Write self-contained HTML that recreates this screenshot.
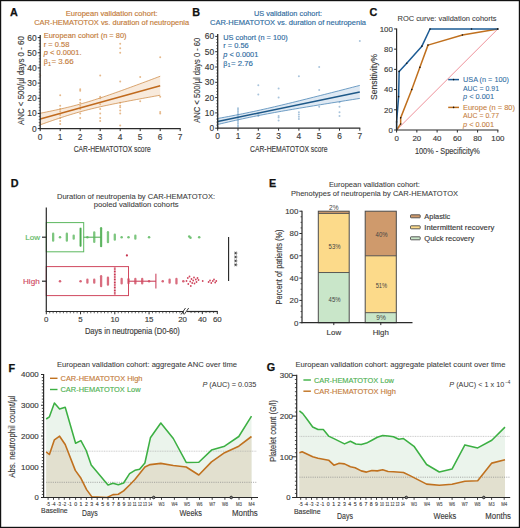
<!DOCTYPE html>
<html><head><meta charset="utf-8"><style>
html,body{margin:0;padding:0;background:#fff;}
body{width:520px;height:528px;overflow:hidden;position:relative;}
svg{position:absolute;left:0;top:0;display:block;}
</style></head><body>
<svg width="520" height="528" viewBox="0 0 520 528" font-family='"Liberation Sans", sans-serif'>
<rect x="0" y="0" width="520" height="528" fill="#fff"/>
<text x="10.00" y="15.90" font-size="10.8" fill="#111" text-anchor="start" font-weight="bold" stroke="#111" stroke-width="0.25">A</text>
<text x="192.30" y="15.90" font-size="10.8" fill="#111" text-anchor="start" font-weight="bold" stroke="#111" stroke-width="0.25">B</text>
<text x="369.40" y="16.20" font-size="10.8" fill="#111" text-anchor="start" font-weight="bold" stroke="#111" stroke-width="0.25">C</text>
<text x="10.80" y="187.00" font-size="10.8" fill="#111" text-anchor="start" font-weight="bold" stroke="#111" stroke-width="0.25">D</text>
<text x="268.90" y="187.10" font-size="10.8" fill="#111" text-anchor="start" font-weight="bold" stroke="#111" stroke-width="0.25">E</text>
<text x="8.60" y="371.80" font-size="10.8" fill="#111" text-anchor="start" font-weight="bold" stroke="#111" stroke-width="0.25">F</text>
<text x="266.80" y="371.30" font-size="10.8" fill="#111" text-anchor="start" font-weight="bold" stroke="#111" stroke-width="0.25">G</text>
<text x="111.70" y="16.30" font-size="6.8" fill="#c47c3a" text-anchor="middle" textLength="92" lengthAdjust="spacingAndGlyphs" stroke="#c47c3a" stroke-width="0.14">European validation cohort:</text>
<text x="111.70" y="24.80" font-size="6.8" fill="#c47c3a" text-anchor="middle" textLength="155" lengthAdjust="spacingAndGlyphs" stroke="#c47c3a" stroke-width="0.14">CAR-HEMATOTOX vs. duration of neutropenia</text>
<polygon points="40.20,113.25 43.20,112.65 46.20,112.05 49.20,111.44 52.20,110.81 55.20,110.17 58.20,109.52 61.20,108.85 64.20,108.16 67.20,107.45 70.20,106.72 73.20,105.96 76.20,105.18 79.20,104.37 82.20,103.53 85.20,102.67 88.20,101.77 91.20,100.86 94.20,99.92 97.20,98.95 100.20,97.97 103.20,96.97 106.20,95.95 109.20,94.92 112.20,93.87 115.20,92.82 118.20,91.75 121.20,90.68 124.20,89.60 127.20,88.51 130.20,87.41 133.20,86.31 136.20,85.21 139.20,84.10 142.20,82.98 145.20,81.87 148.20,80.75 151.20,79.62 154.20,78.50 157.20,77.37 160.20,76.24 160.20,95.22 157.20,95.75 154.20,96.29 151.20,96.83 148.20,97.38 145.20,97.92 142.20,98.47 139.20,99.02 136.20,99.58 133.20,100.14 130.20,100.70 127.20,101.27 124.20,101.85 121.20,102.43 118.20,103.03 115.20,103.63 112.20,104.23 109.20,104.86 106.20,105.49 103.20,106.14 100.20,106.80 97.20,107.48 94.20,108.19 91.20,108.91 88.20,109.66 85.20,110.44 82.20,111.24 79.20,112.06 76.20,112.92 73.20,113.80 70.20,114.71 67.20,115.64 64.20,116.60 61.20,117.58 58.20,118.57 55.20,119.58 52.20,120.61 49.20,121.65 46.20,122.70 43.20,123.77 40.20,124.84" fill="#f8eadc"/>
<circle cx="60.20" cy="95.23" r="1.0" fill="#e6b98c"/>
<circle cx="60.20" cy="105.84" r="1.0" fill="#e6b98c"/>
<circle cx="60.20" cy="108.88" r="1.0" fill="#e6b98c"/>
<circle cx="60.20" cy="111.15" r="1.0" fill="#e6b98c"/>
<circle cx="60.20" cy="114.95" r="1.0" fill="#e6b98c"/>
<circle cx="60.20" cy="117.98" r="1.0" fill="#e6b98c"/>
<circle cx="60.20" cy="121.02" r="1.0" fill="#e6b98c"/>
<circle cx="60.20" cy="124.05" r="1.0" fill="#e6b98c"/>
<circle cx="80.20" cy="89.16" r="1.0" fill="#e6b98c"/>
<circle cx="80.20" cy="90.67" r="1.0" fill="#e6b98c"/>
<circle cx="80.20" cy="99.78" r="1.0" fill="#e6b98c"/>
<circle cx="80.20" cy="102.81" r="1.0" fill="#e6b98c"/>
<circle cx="80.20" cy="105.84" r="1.0" fill="#e6b98c"/>
<circle cx="80.20" cy="108.88" r="1.0" fill="#e6b98c"/>
<circle cx="80.20" cy="113.43" r="1.0" fill="#e6b98c"/>
<circle cx="80.20" cy="117.98" r="1.0" fill="#e6b98c"/>
<circle cx="100.20" cy="75.50" r="1.0" fill="#e6b98c"/>
<circle cx="100.20" cy="96.74" r="1.0" fill="#e6b98c"/>
<circle cx="100.20" cy="98.26" r="1.0" fill="#e6b98c"/>
<circle cx="100.20" cy="104.33" r="1.0" fill="#e6b98c"/>
<circle cx="100.20" cy="108.88" r="1.0" fill="#e6b98c"/>
<circle cx="100.20" cy="113.43" r="1.0" fill="#e6b98c"/>
<circle cx="100.20" cy="117.98" r="1.0" fill="#e6b98c"/>
<circle cx="100.20" cy="121.02" r="1.0" fill="#e6b98c"/>
<circle cx="120.20" cy="43.65" r="1.0" fill="#e6b98c"/>
<circle cx="120.20" cy="48.20" r="1.0" fill="#e6b98c"/>
<circle cx="120.20" cy="52.75" r="1.0" fill="#e6b98c"/>
<circle cx="120.20" cy="81.57" r="1.0" fill="#e6b98c"/>
<circle cx="120.20" cy="102.81" r="1.0" fill="#e6b98c"/>
<circle cx="120.20" cy="105.84" r="1.0" fill="#e6b98c"/>
<circle cx="120.20" cy="107.36" r="1.0" fill="#e6b98c"/>
<circle cx="120.20" cy="110.40" r="1.0" fill="#e6b98c"/>
<circle cx="120.20" cy="113.43" r="1.0" fill="#e6b98c"/>
<circle cx="120.20" cy="125.57" r="1.0" fill="#e6b98c"/>
<circle cx="140.20" cy="77.02" r="1.0" fill="#e6b98c"/>
<circle cx="140.20" cy="101.29" r="1.0" fill="#e6b98c"/>
<circle cx="160.20" cy="57.30" r="1.0" fill="#e6b98c"/>
<circle cx="160.20" cy="96.74" r="1.0" fill="#e6b98c"/>
<circle cx="160.20" cy="111.91" r="1.0" fill="#e6b98c"/>
<circle cx="160.20" cy="113.43" r="1.0" fill="#e6b98c"/>
<circle cx="40.20" cy="75.50" r="1.0" fill="#e6b98c"/>
<circle cx="40.20" cy="124.05" r="1.0" fill="#e6b98c"/>
<polyline points="40.20,113.25 43.20,112.65 46.20,112.05 49.20,111.44 52.20,110.81 55.20,110.17 58.20,109.52 61.20,108.85 64.20,108.16 67.20,107.45 70.20,106.72 73.20,105.96 76.20,105.18 79.20,104.37 82.20,103.53 85.20,102.67 88.20,101.77 91.20,100.86 94.20,99.92 97.20,98.95 100.20,97.97 103.20,96.97 106.20,95.95 109.20,94.92 112.20,93.87 115.20,92.82 118.20,91.75 121.20,90.68 124.20,89.60 127.20,88.51 130.20,87.41 133.20,86.31 136.20,85.21 139.20,84.10 142.20,82.98 145.20,81.87 148.20,80.75 151.20,79.62 154.20,78.50 157.20,77.37 160.20,76.24" fill="none" stroke="#d1904f" stroke-width="0.8" stroke-linejoin="round"/>
<polyline points="40.20,124.84 43.20,123.77 46.20,122.70 49.20,121.65 52.20,120.61 55.20,119.58 58.20,118.57 61.20,117.58 64.20,116.60 67.20,115.64 70.20,114.71 73.20,113.80 76.20,112.92 79.20,112.06 82.20,111.24 85.20,110.44 88.20,109.66 91.20,108.91 94.20,108.19 97.20,107.48 100.20,106.80 103.20,106.14 106.20,105.49 109.20,104.86 112.20,104.23 115.20,103.63 118.20,103.03 121.20,102.43 124.20,101.85 127.20,101.27 130.20,100.70 133.20,100.14 136.20,99.58 139.20,99.02 142.20,98.47 145.20,97.92 148.20,97.38 151.20,96.83 154.20,96.29 157.20,95.75 160.20,95.22" fill="none" stroke="#d1904f" stroke-width="0.8" stroke-linejoin="round"/>
<line x1="40.20" y1="119.04" x2="160.20" y2="85.73" stroke="#c06a1e" stroke-width="1.5"/>
<line x1="40.20" y1="129.20" x2="40.20" y2="35.08" stroke="#2a2a2a" stroke-width="1.3"/>
<line x1="39.60" y1="128.60" x2="180.70" y2="128.60" stroke="#2a2a2a" stroke-width="1.3"/>
<line x1="37.70" y1="128.60" x2="40.20" y2="128.60" stroke="#2a2a2a" stroke-width="1"/>
<text x="36.60" y="131.60" font-size="8.4" fill="#3a3a3a" text-anchor="end" stroke="#3a3a3a" stroke-width="0.14">0</text>
<line x1="37.70" y1="113.43" x2="40.20" y2="113.43" stroke="#2a2a2a" stroke-width="1"/>
<text x="36.60" y="116.43" font-size="8.4" fill="#3a3a3a" text-anchor="end" textLength="9.4" lengthAdjust="spacingAndGlyphs" stroke="#3a3a3a" stroke-width="0.14">10</text>
<line x1="37.70" y1="98.26" x2="40.20" y2="98.26" stroke="#2a2a2a" stroke-width="1"/>
<text x="36.60" y="101.26" font-size="8.4" fill="#3a3a3a" text-anchor="end" textLength="9.4" lengthAdjust="spacingAndGlyphs" stroke="#3a3a3a" stroke-width="0.14">20</text>
<line x1="37.70" y1="83.09" x2="40.20" y2="83.09" stroke="#2a2a2a" stroke-width="1"/>
<text x="36.60" y="86.09" font-size="8.4" fill="#3a3a3a" text-anchor="end" textLength="9.4" lengthAdjust="spacingAndGlyphs" stroke="#3a3a3a" stroke-width="0.14">30</text>
<line x1="37.70" y1="67.92" x2="40.20" y2="67.92" stroke="#2a2a2a" stroke-width="1"/>
<text x="36.60" y="70.92" font-size="8.4" fill="#3a3a3a" text-anchor="end" textLength="9.4" lengthAdjust="spacingAndGlyphs" stroke="#3a3a3a" stroke-width="0.14">40</text>
<line x1="37.70" y1="52.75" x2="40.20" y2="52.75" stroke="#2a2a2a" stroke-width="1"/>
<text x="36.60" y="55.75" font-size="8.4" fill="#3a3a3a" text-anchor="end" textLength="9.4" lengthAdjust="spacingAndGlyphs" stroke="#3a3a3a" stroke-width="0.14">50</text>
<line x1="37.70" y1="37.58" x2="40.20" y2="37.58" stroke="#2a2a2a" stroke-width="1"/>
<text x="36.60" y="40.58" font-size="8.4" fill="#3a3a3a" text-anchor="end" textLength="9.4" lengthAdjust="spacingAndGlyphs" stroke="#3a3a3a" stroke-width="0.14">60</text>
<line x1="38.70" y1="125.57" x2="40.20" y2="125.57" stroke="#2a2a2a" stroke-width="0.6"/>
<line x1="38.70" y1="122.53" x2="40.20" y2="122.53" stroke="#2a2a2a" stroke-width="0.6"/>
<line x1="38.70" y1="119.50" x2="40.20" y2="119.50" stroke="#2a2a2a" stroke-width="0.6"/>
<line x1="38.70" y1="116.46" x2="40.20" y2="116.46" stroke="#2a2a2a" stroke-width="0.6"/>
<line x1="38.70" y1="110.40" x2="40.20" y2="110.40" stroke="#2a2a2a" stroke-width="0.6"/>
<line x1="38.70" y1="107.36" x2="40.20" y2="107.36" stroke="#2a2a2a" stroke-width="0.6"/>
<line x1="38.70" y1="104.33" x2="40.20" y2="104.33" stroke="#2a2a2a" stroke-width="0.6"/>
<line x1="38.70" y1="101.29" x2="40.20" y2="101.29" stroke="#2a2a2a" stroke-width="0.6"/>
<line x1="38.70" y1="95.23" x2="40.20" y2="95.23" stroke="#2a2a2a" stroke-width="0.6"/>
<line x1="38.70" y1="92.19" x2="40.20" y2="92.19" stroke="#2a2a2a" stroke-width="0.6"/>
<line x1="38.70" y1="89.16" x2="40.20" y2="89.16" stroke="#2a2a2a" stroke-width="0.6"/>
<line x1="38.70" y1="86.12" x2="40.20" y2="86.12" stroke="#2a2a2a" stroke-width="0.6"/>
<line x1="38.70" y1="80.06" x2="40.20" y2="80.06" stroke="#2a2a2a" stroke-width="0.6"/>
<line x1="38.70" y1="77.02" x2="40.20" y2="77.02" stroke="#2a2a2a" stroke-width="0.6"/>
<line x1="38.70" y1="73.99" x2="40.20" y2="73.99" stroke="#2a2a2a" stroke-width="0.6"/>
<line x1="38.70" y1="70.95" x2="40.20" y2="70.95" stroke="#2a2a2a" stroke-width="0.6"/>
<line x1="38.70" y1="64.89" x2="40.20" y2="64.89" stroke="#2a2a2a" stroke-width="0.6"/>
<line x1="38.70" y1="61.85" x2="40.20" y2="61.85" stroke="#2a2a2a" stroke-width="0.6"/>
<line x1="38.70" y1="58.82" x2="40.20" y2="58.82" stroke="#2a2a2a" stroke-width="0.6"/>
<line x1="38.70" y1="55.78" x2="40.20" y2="55.78" stroke="#2a2a2a" stroke-width="0.6"/>
<line x1="38.70" y1="49.72" x2="40.20" y2="49.72" stroke="#2a2a2a" stroke-width="0.6"/>
<line x1="38.70" y1="46.68" x2="40.20" y2="46.68" stroke="#2a2a2a" stroke-width="0.6"/>
<line x1="38.70" y1="43.65" x2="40.20" y2="43.65" stroke="#2a2a2a" stroke-width="0.6"/>
<line x1="38.70" y1="40.61" x2="40.20" y2="40.61" stroke="#2a2a2a" stroke-width="0.6"/>
<line x1="40.20" y1="128.60" x2="40.20" y2="131.10" stroke="#2a2a2a" stroke-width="1"/>
<text x="40.20" y="139.80" font-size="8.4" fill="#3a3a3a" text-anchor="middle" stroke="#3a3a3a" stroke-width="0.14">0</text>
<line x1="60.20" y1="128.60" x2="60.20" y2="131.10" stroke="#2a2a2a" stroke-width="1"/>
<text x="60.20" y="139.80" font-size="8.4" fill="#3a3a3a" text-anchor="middle" stroke="#3a3a3a" stroke-width="0.14">1</text>
<line x1="80.20" y1="128.60" x2="80.20" y2="131.10" stroke="#2a2a2a" stroke-width="1"/>
<text x="80.20" y="139.80" font-size="8.4" fill="#3a3a3a" text-anchor="middle" stroke="#3a3a3a" stroke-width="0.14">2</text>
<line x1="100.20" y1="128.60" x2="100.20" y2="131.10" stroke="#2a2a2a" stroke-width="1"/>
<text x="100.20" y="139.80" font-size="8.4" fill="#3a3a3a" text-anchor="middle" stroke="#3a3a3a" stroke-width="0.14">3</text>
<line x1="120.20" y1="128.60" x2="120.20" y2="131.10" stroke="#2a2a2a" stroke-width="1"/>
<text x="120.20" y="139.80" font-size="8.4" fill="#3a3a3a" text-anchor="middle" stroke="#3a3a3a" stroke-width="0.14">4</text>
<line x1="140.20" y1="128.60" x2="140.20" y2="131.10" stroke="#2a2a2a" stroke-width="1"/>
<text x="140.20" y="139.80" font-size="8.4" fill="#3a3a3a" text-anchor="middle" stroke="#3a3a3a" stroke-width="0.14">5</text>
<line x1="160.20" y1="128.60" x2="160.20" y2="131.10" stroke="#2a2a2a" stroke-width="1"/>
<text x="160.20" y="139.80" font-size="8.4" fill="#3a3a3a" text-anchor="middle" stroke="#3a3a3a" stroke-width="0.14">6</text>
<line x1="180.20" y1="128.60" x2="180.20" y2="131.10" stroke="#2a2a2a" stroke-width="1"/>
<text x="180.20" y="139.80" font-size="8.4" fill="#3a3a3a" text-anchor="middle" stroke="#3a3a3a" stroke-width="0.14">7</text>
<text x="43.80" y="37.80" font-size="7.2" fill="#c47c3a" text-anchor="start" textLength="82.7" lengthAdjust="spacingAndGlyphs" stroke="#c47c3a" stroke-width="0.14">European cohort (n = 80)</text>
<text x="43.80" y="46.80" font-size="7.2" fill="#c47c3a" text-anchor="start" textLength="25.6" lengthAdjust="spacingAndGlyphs" stroke="#c47c3a" stroke-width="0.14">r = 0.58</text>
<text x="43.80" y="55.10" font-size="7.2" fill="#c47c3a" text-anchor="start" textLength="37.7" lengthAdjust="spacingAndGlyphs" stroke="#c47c3a" stroke-width="0.14"><tspan font-style="italic">p</tspan> &lt; 0.0001.</text>
<text x="43.80" y="64.10" font-size="7.2" fill="#c47c3a" text-anchor="start" stroke="#c47c3a" stroke-width="0.14">β</text>
<text x="48.20" y="65.60" font-size="4.8" fill="#c47c3a" text-anchor="start" stroke="#c47c3a" stroke-width="0.14">1</text>
<text x="51.40" y="64.10" font-size="7.2" fill="#c47c3a" text-anchor="start" textLength="22.299999999999997" lengthAdjust="spacingAndGlyphs" stroke="#c47c3a" stroke-width="0.14">= 3.66</text>
<text x="288.00" y="16.30" font-size="6.8" fill="#2f6c9f" text-anchor="middle" textLength="68" lengthAdjust="spacingAndGlyphs" stroke="#2f6c9f" stroke-width="0.14">US validation cohort:</text>
<text x="288.00" y="24.80" font-size="6.8" fill="#2f6c9f" text-anchor="middle" textLength="156" lengthAdjust="spacingAndGlyphs" stroke="#2f6c9f" stroke-width="0.14">CAR-HEMATOTOX vs. duration of neutropenia</text>
<polygon points="217.70,118.47 221.25,117.83 224.80,117.18 228.36,116.52 231.91,115.85 235.46,115.17 239.01,114.48 242.57,113.77 246.12,113.04 249.67,112.31 253.22,111.55 256.78,110.79 260.33,110.01 263.88,109.21 267.44,108.41 270.99,107.59 274.54,106.76 278.09,105.92 281.64,105.08 285.20,104.22 288.75,103.36 292.30,102.50 295.86,101.62 299.41,100.74 302.96,99.86 306.51,98.98 310.06,98.09 313.62,97.19 317.17,96.30 320.72,95.40 324.27,94.50 327.83,93.60 331.38,92.69 334.93,91.79 338.49,90.88 342.04,89.97 345.59,89.06 349.14,88.15 352.69,87.23 356.25,86.32 359.80,85.40 359.80,98.41 356.25,98.98 352.69,99.54 349.14,100.10 345.59,100.67 342.04,101.24 338.49,101.81 334.93,102.38 331.38,102.95 327.83,103.52 324.27,104.10 320.72,104.68 317.17,105.25 313.62,105.84 310.06,106.42 306.51,107.01 302.96,107.60 299.41,108.20 295.86,108.80 292.30,109.40 288.75,110.01 285.20,110.63 281.64,111.25 278.09,111.89 274.54,112.53 270.99,113.18 267.44,113.84 263.88,114.51 260.33,115.19 256.78,115.89 253.22,116.60 249.67,117.33 246.12,118.07 242.57,118.82 239.01,119.59 235.46,120.37 231.91,121.17 228.36,121.98 224.80,122.80 221.25,123.63 217.70,124.46" fill="#dfe9f3"/>
<circle cx="217.70" cy="114.43" r="1.0" fill="#a9c4dc"/>
<circle cx="217.70" cy="119.02" r="1.0" fill="#a9c4dc"/>
<circle cx="217.70" cy="123.61" r="1.0" fill="#a9c4dc"/>
<circle cx="217.70" cy="126.67" r="1.0" fill="#a9c4dc"/>
<circle cx="238.00" cy="108.31" r="1.0" fill="#a9c4dc"/>
<circle cx="238.00" cy="109.84" r="1.0" fill="#a9c4dc"/>
<circle cx="238.00" cy="111.37" r="1.0" fill="#a9c4dc"/>
<circle cx="238.00" cy="112.90" r="1.0" fill="#a9c4dc"/>
<circle cx="238.00" cy="114.43" r="1.0" fill="#a9c4dc"/>
<circle cx="238.00" cy="115.96" r="1.0" fill="#a9c4dc"/>
<circle cx="238.00" cy="117.49" r="1.0" fill="#a9c4dc"/>
<circle cx="238.00" cy="119.02" r="1.0" fill="#a9c4dc"/>
<circle cx="238.00" cy="120.55" r="1.0" fill="#a9c4dc"/>
<circle cx="238.00" cy="122.08" r="1.0" fill="#a9c4dc"/>
<circle cx="238.00" cy="123.61" r="1.0" fill="#a9c4dc"/>
<circle cx="238.00" cy="125.14" r="1.0" fill="#a9c4dc"/>
<circle cx="238.00" cy="126.67" r="1.0" fill="#a9c4dc"/>
<circle cx="258.30" cy="85.36" r="1.0" fill="#a9c4dc"/>
<circle cx="258.30" cy="94.54" r="1.0" fill="#a9c4dc"/>
<circle cx="258.30" cy="112.90" r="1.0" fill="#a9c4dc"/>
<circle cx="258.30" cy="114.43" r="1.0" fill="#a9c4dc"/>
<circle cx="258.30" cy="115.96" r="1.0" fill="#a9c4dc"/>
<circle cx="278.60" cy="88.42" r="1.0" fill="#a9c4dc"/>
<circle cx="278.60" cy="97.60" r="1.0" fill="#a9c4dc"/>
<circle cx="278.60" cy="115.96" r="1.0" fill="#a9c4dc"/>
<circle cx="278.60" cy="117.49" r="1.0" fill="#a9c4dc"/>
<circle cx="278.60" cy="120.55" r="1.0" fill="#a9c4dc"/>
<circle cx="298.90" cy="76.18" r="1.0" fill="#a9c4dc"/>
<circle cx="298.90" cy="112.13" r="1.0" fill="#a9c4dc"/>
<circle cx="298.90" cy="114.43" r="1.0" fill="#a9c4dc"/>
<circle cx="298.90" cy="116.72" r="1.0" fill="#a9c4dc"/>
<circle cx="298.90" cy="119.02" r="1.0" fill="#a9c4dc"/>
<circle cx="319.20" cy="67.00" r="1.0" fill="#a9c4dc"/>
<circle cx="319.20" cy="89.95" r="1.0" fill="#a9c4dc"/>
<circle cx="319.20" cy="106.78" r="1.0" fill="#a9c4dc"/>
<circle cx="339.50" cy="102.19" r="1.0" fill="#a9c4dc"/>
<circle cx="339.50" cy="106.78" r="1.0" fill="#a9c4dc"/>
<circle cx="339.50" cy="112.13" r="1.0" fill="#a9c4dc"/>
<circle cx="339.50" cy="115.96" r="1.0" fill="#a9c4dc"/>
<circle cx="359.80" cy="40.99" r="1.0" fill="#a9c4dc"/>
<polyline points="217.70,118.47 221.25,117.83 224.80,117.18 228.36,116.52 231.91,115.85 235.46,115.17 239.01,114.48 242.57,113.77 246.12,113.04 249.67,112.31 253.22,111.55 256.78,110.79 260.33,110.01 263.88,109.21 267.44,108.41 270.99,107.59 274.54,106.76 278.09,105.92 281.64,105.08 285.20,104.22 288.75,103.36 292.30,102.50 295.86,101.62 299.41,100.74 302.96,99.86 306.51,98.98 310.06,98.09 313.62,97.19 317.17,96.30 320.72,95.40 324.27,94.50 327.83,93.60 331.38,92.69 334.93,91.79 338.49,90.88 342.04,89.97 345.59,89.06 349.14,88.15 352.69,87.23 356.25,86.32 359.80,85.40" fill="none" stroke="#4d86b6" stroke-width="0.8" stroke-linejoin="round"/>
<polyline points="217.70,124.46 221.25,123.63 224.80,122.80 228.36,121.98 231.91,121.17 235.46,120.37 239.01,119.59 242.57,118.82 246.12,118.07 249.67,117.33 253.22,116.60 256.78,115.89 260.33,115.19 263.88,114.51 267.44,113.84 270.99,113.18 274.54,112.53 278.09,111.89 281.64,111.25 285.20,110.63 288.75,110.01 292.30,109.40 295.86,108.80 299.41,108.20 302.96,107.60 306.51,107.01 310.06,106.42 313.62,105.84 317.17,105.25 320.72,104.68 324.27,104.10 327.83,103.52 331.38,102.95 334.93,102.38 338.49,101.81 342.04,101.24 345.59,100.67 349.14,100.10 352.69,99.54 356.25,98.98 359.80,98.41" fill="none" stroke="#4d86b6" stroke-width="0.8" stroke-linejoin="round"/>
<line x1="217.70" y1="121.47" x2="359.80" y2="91.91" stroke="#1d5888" stroke-width="1.5"/>
<line x1="217.70" y1="128.80" x2="217.70" y2="33.90" stroke="#2a2a2a" stroke-width="1.3"/>
<line x1="217.10" y1="128.20" x2="360.30" y2="128.20" stroke="#2a2a2a" stroke-width="1.3"/>
<line x1="215.20" y1="128.20" x2="217.70" y2="128.20" stroke="#2a2a2a" stroke-width="1"/>
<text x="214.10" y="131.20" font-size="8.4" fill="#3a3a3a" text-anchor="end" stroke="#3a3a3a" stroke-width="0.14">0</text>
<line x1="215.20" y1="112.90" x2="217.70" y2="112.90" stroke="#2a2a2a" stroke-width="1"/>
<text x="214.10" y="115.90" font-size="8.4" fill="#3a3a3a" text-anchor="end" textLength="9.4" lengthAdjust="spacingAndGlyphs" stroke="#3a3a3a" stroke-width="0.14">10</text>
<line x1="215.20" y1="97.60" x2="217.70" y2="97.60" stroke="#2a2a2a" stroke-width="1"/>
<text x="214.10" y="100.60" font-size="8.4" fill="#3a3a3a" text-anchor="end" textLength="9.4" lengthAdjust="spacingAndGlyphs" stroke="#3a3a3a" stroke-width="0.14">20</text>
<line x1="215.20" y1="82.30" x2="217.70" y2="82.30" stroke="#2a2a2a" stroke-width="1"/>
<text x="214.10" y="85.30" font-size="8.4" fill="#3a3a3a" text-anchor="end" textLength="9.4" lengthAdjust="spacingAndGlyphs" stroke="#3a3a3a" stroke-width="0.14">30</text>
<line x1="215.20" y1="67.00" x2="217.70" y2="67.00" stroke="#2a2a2a" stroke-width="1"/>
<text x="214.10" y="70.00" font-size="8.4" fill="#3a3a3a" text-anchor="end" textLength="9.4" lengthAdjust="spacingAndGlyphs" stroke="#3a3a3a" stroke-width="0.14">40</text>
<line x1="215.20" y1="51.70" x2="217.70" y2="51.70" stroke="#2a2a2a" stroke-width="1"/>
<text x="214.10" y="54.70" font-size="8.4" fill="#3a3a3a" text-anchor="end" textLength="9.4" lengthAdjust="spacingAndGlyphs" stroke="#3a3a3a" stroke-width="0.14">50</text>
<line x1="215.20" y1="36.40" x2="217.70" y2="36.40" stroke="#2a2a2a" stroke-width="1"/>
<text x="214.10" y="39.40" font-size="8.4" fill="#3a3a3a" text-anchor="end" textLength="9.4" lengthAdjust="spacingAndGlyphs" stroke="#3a3a3a" stroke-width="0.14">60</text>
<line x1="216.20" y1="125.14" x2="217.70" y2="125.14" stroke="#2a2a2a" stroke-width="0.6"/>
<line x1="216.20" y1="122.08" x2="217.70" y2="122.08" stroke="#2a2a2a" stroke-width="0.6"/>
<line x1="216.20" y1="119.02" x2="217.70" y2="119.02" stroke="#2a2a2a" stroke-width="0.6"/>
<line x1="216.20" y1="115.96" x2="217.70" y2="115.96" stroke="#2a2a2a" stroke-width="0.6"/>
<line x1="216.20" y1="109.84" x2="217.70" y2="109.84" stroke="#2a2a2a" stroke-width="0.6"/>
<line x1="216.20" y1="106.78" x2="217.70" y2="106.78" stroke="#2a2a2a" stroke-width="0.6"/>
<line x1="216.20" y1="103.72" x2="217.70" y2="103.72" stroke="#2a2a2a" stroke-width="0.6"/>
<line x1="216.20" y1="100.66" x2="217.70" y2="100.66" stroke="#2a2a2a" stroke-width="0.6"/>
<line x1="216.20" y1="94.54" x2="217.70" y2="94.54" stroke="#2a2a2a" stroke-width="0.6"/>
<line x1="216.20" y1="91.48" x2="217.70" y2="91.48" stroke="#2a2a2a" stroke-width="0.6"/>
<line x1="216.20" y1="88.42" x2="217.70" y2="88.42" stroke="#2a2a2a" stroke-width="0.6"/>
<line x1="216.20" y1="85.36" x2="217.70" y2="85.36" stroke="#2a2a2a" stroke-width="0.6"/>
<line x1="216.20" y1="79.24" x2="217.70" y2="79.24" stroke="#2a2a2a" stroke-width="0.6"/>
<line x1="216.20" y1="76.18" x2="217.70" y2="76.18" stroke="#2a2a2a" stroke-width="0.6"/>
<line x1="216.20" y1="73.12" x2="217.70" y2="73.12" stroke="#2a2a2a" stroke-width="0.6"/>
<line x1="216.20" y1="70.06" x2="217.70" y2="70.06" stroke="#2a2a2a" stroke-width="0.6"/>
<line x1="216.20" y1="63.94" x2="217.70" y2="63.94" stroke="#2a2a2a" stroke-width="0.6"/>
<line x1="216.20" y1="60.88" x2="217.70" y2="60.88" stroke="#2a2a2a" stroke-width="0.6"/>
<line x1="216.20" y1="57.82" x2="217.70" y2="57.82" stroke="#2a2a2a" stroke-width="0.6"/>
<line x1="216.20" y1="54.76" x2="217.70" y2="54.76" stroke="#2a2a2a" stroke-width="0.6"/>
<line x1="216.20" y1="48.64" x2="217.70" y2="48.64" stroke="#2a2a2a" stroke-width="0.6"/>
<line x1="216.20" y1="45.58" x2="217.70" y2="45.58" stroke="#2a2a2a" stroke-width="0.6"/>
<line x1="216.20" y1="42.52" x2="217.70" y2="42.52" stroke="#2a2a2a" stroke-width="0.6"/>
<line x1="216.20" y1="39.46" x2="217.70" y2="39.46" stroke="#2a2a2a" stroke-width="0.6"/>
<line x1="217.70" y1="128.20" x2="217.70" y2="130.70" stroke="#2a2a2a" stroke-width="1"/>
<text x="217.70" y="139.40" font-size="8.4" fill="#3a3a3a" text-anchor="middle" stroke="#3a3a3a" stroke-width="0.14">0</text>
<line x1="238.00" y1="128.20" x2="238.00" y2="130.70" stroke="#2a2a2a" stroke-width="1"/>
<text x="238.00" y="139.40" font-size="8.4" fill="#3a3a3a" text-anchor="middle" stroke="#3a3a3a" stroke-width="0.14">1</text>
<line x1="258.30" y1="128.20" x2="258.30" y2="130.70" stroke="#2a2a2a" stroke-width="1"/>
<text x="258.30" y="139.40" font-size="8.4" fill="#3a3a3a" text-anchor="middle" stroke="#3a3a3a" stroke-width="0.14">2</text>
<line x1="278.60" y1="128.20" x2="278.60" y2="130.70" stroke="#2a2a2a" stroke-width="1"/>
<text x="278.60" y="139.40" font-size="8.4" fill="#3a3a3a" text-anchor="middle" stroke="#3a3a3a" stroke-width="0.14">3</text>
<line x1="298.90" y1="128.20" x2="298.90" y2="130.70" stroke="#2a2a2a" stroke-width="1"/>
<text x="298.90" y="139.40" font-size="8.4" fill="#3a3a3a" text-anchor="middle" stroke="#3a3a3a" stroke-width="0.14">4</text>
<line x1="319.20" y1="128.20" x2="319.20" y2="130.70" stroke="#2a2a2a" stroke-width="1"/>
<text x="319.20" y="139.40" font-size="8.4" fill="#3a3a3a" text-anchor="middle" stroke="#3a3a3a" stroke-width="0.14">5</text>
<line x1="339.50" y1="128.20" x2="339.50" y2="130.70" stroke="#2a2a2a" stroke-width="1"/>
<text x="339.50" y="139.40" font-size="8.4" fill="#3a3a3a" text-anchor="middle" stroke="#3a3a3a" stroke-width="0.14">6</text>
<line x1="359.80" y1="128.20" x2="359.80" y2="130.70" stroke="#2a2a2a" stroke-width="1"/>
<text x="359.80" y="139.40" font-size="8.4" fill="#3a3a3a" text-anchor="middle" stroke="#3a3a3a" stroke-width="0.14">7</text>
<text x="223.30" y="39.50" font-size="7.2" fill="#2f6c9f" text-anchor="start" textLength="64.4" lengthAdjust="spacingAndGlyphs" stroke="#2f6c9f" stroke-width="0.14">US cohort (n = 100)</text>
<text x="223.30" y="48.20" font-size="7.2" fill="#2f6c9f" text-anchor="start" textLength="25.4" lengthAdjust="spacingAndGlyphs" stroke="#2f6c9f" stroke-width="0.14">r = 0.56</text>
<text x="223.30" y="56.80" font-size="7.2" fill="#2f6c9f" text-anchor="start" textLength="35.0" lengthAdjust="spacingAndGlyphs" stroke="#2f6c9f" stroke-width="0.14"><tspan font-style="italic">p</tspan> &lt; 0.0001</text>
<text x="223.30" y="65.50" font-size="7.2" fill="#2f6c9f" text-anchor="start" stroke="#2f6c9f" stroke-width="0.14">β</text>
<text x="227.70" y="67.00" font-size="4.8" fill="#2f6c9f" text-anchor="start" stroke="#2f6c9f" stroke-width="0.14">1</text>
<text x="230.90" y="65.50" font-size="7.2" fill="#2f6c9f" text-anchor="start" textLength="22.1" lengthAdjust="spacingAndGlyphs" stroke="#2f6c9f" stroke-width="0.14">= 2.76</text>
<text x="24.30" y="80.60" font-size="8.4" fill="#3a3a3a" text-anchor="middle" textLength="89" lengthAdjust="spacingAndGlyphs" stroke="#3a3a3a" stroke-width="0.14" transform="rotate(-90 24.30 80.60)">ANC &lt; 500/µl days 0 - 60</text>
<text x="200.20" y="80.20" font-size="8.4" fill="#3a3a3a" text-anchor="middle" textLength="85" lengthAdjust="spacingAndGlyphs" stroke="#3a3a3a" stroke-width="0.14" transform="rotate(-90 200.20 80.20)">ANC &lt; 500/µl days 0 - 60</text>
<text x="112.15" y="152.10" font-size="9.0" fill="#3a3a3a" text-anchor="middle" textLength="77" lengthAdjust="spacingAndGlyphs" stroke="#3a3a3a" stroke-width="0.14">CAR-HEMATOTOX score</text>
<text x="288.75" y="151.60" font-size="9.0" fill="#3a3a3a" text-anchor="middle" textLength="77.5" lengthAdjust="spacingAndGlyphs" stroke="#3a3a3a" stroke-width="0.14">CAR-HEMATOTOX score</text>
<text x="447.00" y="20.80" font-size="6.9" fill="#3a3a3a" text-anchor="middle" textLength="99" lengthAdjust="spacingAndGlyphs" stroke="#3a3a3a" stroke-width="0.07">ROC curve: validation cohorts</text>
<line x1="396.60" y1="130.00" x2="497.85" y2="28.95" stroke="#ea7580" stroke-width="0.8"/>
<polyline points="396.60,130.00 400.65,123.94 400.65,117.87 411.79,89.58 419.89,67.35 427.99,45.12 462.41,35.01 497.85,28.95" fill="none" stroke="#c0701e" stroke-width="1.5" stroke-linejoin="round"/>
<polyline points="396.60,130.00 396.60,121.92 398.62,96.65 399.13,71.39 406.73,63.31 421.91,46.13 430.01,28.95 471.53,28.95 497.85,28.95" fill="none" stroke="#1d5c95" stroke-width="1.5" stroke-linejoin="round"/>
<circle cx="396.60" cy="121.92" r="0.8" fill="#111"/>
<circle cx="398.62" cy="96.65" r="0.8" fill="#111"/>
<circle cx="399.13" cy="71.39" r="0.8" fill="#111"/>
<circle cx="406.73" cy="63.31" r="0.8" fill="#111"/>
<circle cx="421.91" cy="46.13" r="0.8" fill="#111"/>
<circle cx="430.01" cy="28.95" r="0.8" fill="#111"/>
<circle cx="471.53" cy="28.95" r="0.8" fill="#111"/>
<circle cx="497.85" cy="28.95" r="0.8" fill="#111"/>
<circle cx="400.65" cy="123.94" r="0.8" fill="#111"/>
<circle cx="400.65" cy="117.87" r="0.8" fill="#111"/>
<circle cx="411.79" cy="89.58" r="0.8" fill="#111"/>
<circle cx="419.89" cy="67.35" r="0.8" fill="#111"/>
<circle cx="427.99" cy="45.12" r="0.8" fill="#111"/>
<circle cx="462.41" cy="35.01" r="0.8" fill="#111"/>
<circle cx="497.85" cy="28.95" r="0.8" fill="#111"/>
<line x1="396.60" y1="130.60" x2="396.60" y2="28.45" stroke="#2a2a2a" stroke-width="1.2"/>
<line x1="396.00" y1="130.00" x2="498.35" y2="130.00" stroke="#2a2a2a" stroke-width="1.2"/>
<line x1="394.10" y1="130.00" x2="396.60" y2="130.00" stroke="#2a2a2a" stroke-width="1"/>
<text x="392.80" y="132.80" font-size="7.9" fill="#3a3a3a" text-anchor="end" stroke="#3a3a3a" stroke-width="0.14">0</text>
<line x1="396.60" y1="130.00" x2="396.60" y2="132.50" stroke="#2a2a2a" stroke-width="1"/>
<text x="396.60" y="140.90" font-size="7.9" fill="#3a3a3a" text-anchor="middle" stroke="#3a3a3a" stroke-width="0.14">0</text>
<line x1="394.10" y1="109.79" x2="396.60" y2="109.79" stroke="#2a2a2a" stroke-width="1"/>
<text x="392.80" y="112.59" font-size="7.9" fill="#3a3a3a" text-anchor="end" stroke="#3a3a3a" stroke-width="0.14">20</text>
<line x1="416.85" y1="130.00" x2="416.85" y2="132.50" stroke="#2a2a2a" stroke-width="1"/>
<text x="416.85" y="140.90" font-size="7.9" fill="#3a3a3a" text-anchor="middle" stroke="#3a3a3a" stroke-width="0.14">20</text>
<line x1="394.10" y1="89.58" x2="396.60" y2="89.58" stroke="#2a2a2a" stroke-width="1"/>
<text x="392.80" y="92.38" font-size="7.9" fill="#3a3a3a" text-anchor="end" stroke="#3a3a3a" stroke-width="0.14">40</text>
<line x1="437.10" y1="130.00" x2="437.10" y2="132.50" stroke="#2a2a2a" stroke-width="1"/>
<text x="437.10" y="140.90" font-size="7.9" fill="#3a3a3a" text-anchor="middle" stroke="#3a3a3a" stroke-width="0.14">40</text>
<line x1="394.10" y1="69.37" x2="396.60" y2="69.37" stroke="#2a2a2a" stroke-width="1"/>
<text x="392.80" y="72.17" font-size="7.9" fill="#3a3a3a" text-anchor="end" stroke="#3a3a3a" stroke-width="0.14">60</text>
<line x1="457.35" y1="130.00" x2="457.35" y2="132.50" stroke="#2a2a2a" stroke-width="1"/>
<text x="457.35" y="140.90" font-size="7.9" fill="#3a3a3a" text-anchor="middle" stroke="#3a3a3a" stroke-width="0.14">60</text>
<line x1="394.10" y1="49.16" x2="396.60" y2="49.16" stroke="#2a2a2a" stroke-width="1"/>
<text x="392.80" y="51.96" font-size="7.9" fill="#3a3a3a" text-anchor="end" stroke="#3a3a3a" stroke-width="0.14">80</text>
<line x1="477.60" y1="130.00" x2="477.60" y2="132.50" stroke="#2a2a2a" stroke-width="1"/>
<text x="477.60" y="140.90" font-size="7.9" fill="#3a3a3a" text-anchor="middle" stroke="#3a3a3a" stroke-width="0.14">80</text>
<line x1="394.10" y1="28.95" x2="396.60" y2="28.95" stroke="#2a2a2a" stroke-width="1"/>
<text x="392.80" y="31.75" font-size="7.9" fill="#3a3a3a" text-anchor="end" stroke="#3a3a3a" stroke-width="0.14">100</text>
<line x1="497.85" y1="130.00" x2="497.85" y2="132.50" stroke="#2a2a2a" stroke-width="1"/>
<text x="497.85" y="140.90" font-size="7.9" fill="#3a3a3a" text-anchor="middle" stroke="#3a3a3a" stroke-width="0.14">100</text>
<text x="376.80" y="77.00" font-size="8.4" fill="#3a3a3a" text-anchor="middle" textLength="46" lengthAdjust="spacingAndGlyphs" stroke="#3a3a3a" stroke-width="0.14" transform="rotate(-90 376.80 77.00)">Sensitivity%</text>
<text x="447.40" y="154.40" font-size="8.4" fill="#3a3a3a" text-anchor="middle" textLength="65" lengthAdjust="spacingAndGlyphs" stroke="#3a3a3a" stroke-width="0.14">100% - Specificity%</text>
<line x1="448.20" y1="79.60" x2="459.00" y2="79.60" stroke="#1d5c95" stroke-width="1.5"/>
<circle cx="453.60" cy="79.60" r="0.8" fill="#111"/>
<text x="463.00" y="82.00" font-size="6.9" fill="#2f6c9f" text-anchor="start" textLength="46" lengthAdjust="spacingAndGlyphs" stroke="#2f6c9f" stroke-width="0.07">USA (n = 100)</text>
<text x="463.00" y="90.60" font-size="6.9" fill="#2f6c9f" text-anchor="start" textLength="36" lengthAdjust="spacingAndGlyphs" stroke="#2f6c9f" stroke-width="0.07">AUC = 0.91</text>
<text x="463.00" y="99.20" font-size="6.9" fill="#2f6c9f" text-anchor="start" textLength="31" lengthAdjust="spacingAndGlyphs" stroke="#2f6c9f" stroke-width="0.07"><tspan font-style="italic">p</tspan> &lt; 0.001</text>
<line x1="448.20" y1="107.40" x2="459.00" y2="107.40" stroke="#c0701e" stroke-width="1.5"/>
<circle cx="453.60" cy="107.40" r="0.8" fill="#111"/>
<text x="463.00" y="109.90" font-size="6.9" fill="#c47c3a" text-anchor="start" textLength="52" lengthAdjust="spacingAndGlyphs" stroke="#c47c3a" stroke-width="0.07">Europe (n = 80)</text>
<text x="463.00" y="118.40" font-size="6.9" fill="#c47c3a" text-anchor="start" textLength="36" lengthAdjust="spacingAndGlyphs" stroke="#c47c3a" stroke-width="0.07">AUC = 0.77</text>
<text x="463.00" y="127.20" font-size="6.9" fill="#c47c3a" text-anchor="start" textLength="31" lengthAdjust="spacingAndGlyphs" stroke="#c47c3a" stroke-width="0.07"><tspan font-style="italic">p</tspan> &lt; 0.001</text>
<text x="136.00" y="198.60" font-size="6.9" fill="#3a3a3a" text-anchor="middle" textLength="158" lengthAdjust="spacingAndGlyphs" stroke="#3a3a3a" stroke-width="0.07">Duration of neutropenia by CAR-HEMATOTOX:</text>
<text x="136.20" y="207.40" font-size="6.9" fill="#3a3a3a" text-anchor="middle" textLength="85" lengthAdjust="spacingAndGlyphs" stroke="#3a3a3a" stroke-width="0.07">pooled validation cohorts</text>
<rect x="46.30" y="222.60" width="37.40" height="29.20" fill="none" stroke="#5cb85f" stroke-width="1.0"/>
<line x1="83.70" y1="237.20" x2="101.10" y2="237.20" stroke="#4aa84e" stroke-width="1.0"/>
<line x1="53.15" y1="233.70" x2="53.15" y2="240.70" stroke="#5cb85f" stroke-width="2.3" stroke-linecap="round" stroke-opacity="0.8"/>
<circle cx="60.00" cy="237.20" r="1.25" fill="#5cb85f" fill-opacity="0.85"/>
<line x1="66.85" y1="233.70" x2="66.85" y2="240.70" stroke="#5cb85f" stroke-width="2.3" stroke-linecap="round" stroke-opacity="0.8"/>
<line x1="73.70" y1="235.70" x2="73.70" y2="238.70" stroke="#5cb85f" stroke-width="2.3" stroke-linecap="round" stroke-opacity="0.8"/>
<line x1="80.55" y1="228.70" x2="80.55" y2="245.70" stroke="#5cb85f" stroke-width="2.3" stroke-linecap="round" stroke-opacity="0.8"/>
<circle cx="87.40" cy="237.20" r="1.25" fill="#5cb85f" fill-opacity="0.85"/>
<line x1="94.25" y1="232.45" x2="94.25" y2="241.95" stroke="#5cb85f" stroke-width="2.3" stroke-linecap="round" stroke-opacity="0.8"/>
<line x1="101.10" y1="228.20" x2="101.10" y2="246.20" stroke="#5cb85f" stroke-width="2.3" stroke-linecap="round" stroke-opacity="0.8"/>
<line x1="107.95" y1="232.20" x2="107.95" y2="242.20" stroke="#5cb85f" stroke-width="2.3" stroke-linecap="round" stroke-opacity="0.8"/>
<line x1="114.80" y1="234.70" x2="114.80" y2="239.70" stroke="#5cb85f" stroke-width="2.3" stroke-linecap="round" stroke-opacity="0.8"/>
<circle cx="121.65" cy="237.20" r="1.25" fill="#5cb85f" fill-opacity="0.85"/>
<circle cx="128.50" cy="237.20" r="1.25" fill="#5cb85f" fill-opacity="0.85"/>
<line x1="135.35" y1="235.70" x2="135.35" y2="238.70" stroke="#5cb85f" stroke-width="2.3" stroke-linecap="round" stroke-opacity="0.8"/>
<circle cx="149.05" cy="237.20" r="1.25" fill="#5cb85f" fill-opacity="0.85"/>
<line x1="80.55" y1="228.00" x2="80.55" y2="246.50" stroke="#4aa84e" stroke-width="1.0"/>
<line x1="101.10" y1="227.50" x2="101.10" y2="247.00" stroke="#4aa84e" stroke-width="1.0"/>
<circle cx="189.20" cy="236.40" r="1.25" fill="#5cb85f" fill-opacity="0.85"/>
<circle cx="190.50" cy="237.80" r="1.25" fill="#5cb85f" fill-opacity="0.85"/>
<circle cx="199.20" cy="237.20" r="1.25" fill="#5cb85f" fill-opacity="0.85"/>
<rect x="46.30" y="266.60" width="82.20" height="29.00" fill="none" stroke="#d0485f" stroke-width="1.0"/>
<line x1="128.50" y1="281.20" x2="155.90" y2="281.20" stroke="#c7344f" stroke-width="1.0"/>
<line x1="114.80" y1="267.6" x2="114.80" y2="295.0" stroke="#c7344f" stroke-width="1.8" stroke-dasharray="1.1,0.5"/>
<line x1="155.90" y1="273.70" x2="155.90" y2="288.50" stroke="#c7344f" stroke-width="1.0"/>
<circle cx="60.00" cy="281.20" r="1.25" fill="#d0485f" fill-opacity="0.85"/>
<circle cx="80.55" cy="281.20" r="1.25" fill="#d0485f" fill-opacity="0.85"/>
<line x1="87.40" y1="279.70" x2="87.40" y2="282.70" stroke="#d0485f" stroke-width="2.3" stroke-linecap="round" stroke-opacity="0.8"/>
<line x1="94.25" y1="279.70" x2="94.25" y2="282.70" stroke="#d0485f" stroke-width="2.3" stroke-linecap="round" stroke-opacity="0.8"/>
<line x1="101.10" y1="276.20" x2="101.10" y2="286.20" stroke="#d0485f" stroke-width="2.3" stroke-linecap="round" stroke-opacity="0.8"/>
<line x1="107.95" y1="277.70" x2="107.95" y2="284.70" stroke="#d0485f" stroke-width="2.3" stroke-linecap="round" stroke-opacity="0.8"/>
<line x1="121.65" y1="278.95" x2="121.65" y2="283.45" stroke="#d0485f" stroke-width="2.3" stroke-linecap="round" stroke-opacity="0.8"/>
<line x1="128.50" y1="279.20" x2="128.50" y2="283.20" stroke="#d0485f" stroke-width="2.3" stroke-linecap="round" stroke-opacity="0.8"/>
<line x1="135.35" y1="278.95" x2="135.35" y2="283.45" stroke="#d0485f" stroke-width="2.3" stroke-linecap="round" stroke-opacity="0.8"/>
<line x1="142.20" y1="278.95" x2="142.20" y2="283.45" stroke="#d0485f" stroke-width="2.3" stroke-linecap="round" stroke-opacity="0.8"/>
<circle cx="149.05" cy="281.20" r="1.25" fill="#d0485f" fill-opacity="0.85"/>
<circle cx="162.75" cy="281.20" r="1.25" fill="#d0485f" fill-opacity="0.85"/>
<line x1="169.60" y1="279.70" x2="169.60" y2="282.70" stroke="#d0485f" stroke-width="2.3" stroke-linecap="round" stroke-opacity="0.8"/>
<line x1="176.45" y1="278.95" x2="176.45" y2="283.45" stroke="#d0485f" stroke-width="2.3" stroke-linecap="round" stroke-opacity="0.8"/>
<circle cx="183.30" cy="281.20" r="1.25" fill="#d0485f" fill-opacity="0.85"/>
<circle cx="186.50" cy="281.00" r="0.9" fill="#d0485f"/>
<circle cx="187.80" cy="278.00" r="0.9" fill="#d0485f"/>
<circle cx="188.30" cy="284.00" r="0.9" fill="#d0485f"/>
<circle cx="189.50" cy="276.50" r="0.9" fill="#d0485f"/>
<circle cx="190.20" cy="281.50" r="0.9" fill="#d0485f"/>
<circle cx="190.80" cy="286.00" r="0.9" fill="#d0485f"/>
<circle cx="191.50" cy="279.00" r="0.9" fill="#d0485f"/>
<circle cx="192.20" cy="283.00" r="0.9" fill="#d0485f"/>
<circle cx="193.20" cy="280.50" r="0.9" fill="#d0485f"/>
<circle cx="194.00" cy="277.50" r="0.9" fill="#d0485f"/>
<circle cx="194.50" cy="283.50" r="0.9" fill="#d0485f"/>
<circle cx="195.80" cy="279.50" r="0.9" fill="#d0485f"/>
<circle cx="196.50" cy="282.00" r="0.9" fill="#d0485f"/>
<circle cx="197.50" cy="278.00" r="0.9" fill="#d0485f"/>
<circle cx="198.50" cy="280.00" r="0.9" fill="#d0485f"/>
<circle cx="202.70" cy="281.00" r="0.9" fill="#d0485f"/>
<circle cx="208.60" cy="282.00" r="0.9" fill="#d0485f"/>
<circle cx="210.00" cy="280.50" r="0.9" fill="#d0485f"/>
<circle cx="211.30" cy="283.00" r="0.9" fill="#d0485f"/>
<circle cx="212.80" cy="281.00" r="0.9" fill="#d0485f"/>
<circle cx="214.00" cy="279.50" r="0.9" fill="#d0485f"/>
<circle cx="215.20" cy="282.50" r="0.9" fill="#d0485f"/>
<circle cx="216.30" cy="281.00" r="0.9" fill="#d0485f"/>
<circle cx="126.90" cy="255.40" r="1.1" fill="#c7344f"/>
<line x1="46.30" y1="207.50" x2="46.30" y2="311.80" stroke="#2a2a2a" stroke-width="1.2"/>
<line x1="45.70" y1="311.50" x2="183.50" y2="311.50" stroke="#2a2a2a" stroke-width="1.2"/>
<line x1="186.80" y1="311.50" x2="217.80" y2="311.50" stroke="#2a2a2a" stroke-width="1.2"/>
<line x1="181.00" y1="314.50" x2="185.50" y2="308.00" stroke="#2a2a2a" stroke-width="0.9"/>
<line x1="184.20" y1="314.50" x2="188.70" y2="308.00" stroke="#2a2a2a" stroke-width="0.9"/>
<line x1="46.30" y1="311.50" x2="46.30" y2="314.30" stroke="#2a2a2a" stroke-width="1.0"/>
<line x1="49.72" y1="311.50" x2="49.72" y2="313.30" stroke="#2a2a2a" stroke-width="0.7"/>
<line x1="53.15" y1="311.50" x2="53.15" y2="313.30" stroke="#2a2a2a" stroke-width="0.7"/>
<line x1="56.57" y1="311.50" x2="56.57" y2="313.30" stroke="#2a2a2a" stroke-width="0.7"/>
<line x1="60.00" y1="311.50" x2="60.00" y2="313.30" stroke="#2a2a2a" stroke-width="0.7"/>
<line x1="63.42" y1="311.50" x2="63.42" y2="313.30" stroke="#2a2a2a" stroke-width="0.7"/>
<line x1="66.85" y1="311.50" x2="66.85" y2="313.30" stroke="#2a2a2a" stroke-width="0.7"/>
<line x1="70.27" y1="311.50" x2="70.27" y2="313.30" stroke="#2a2a2a" stroke-width="0.7"/>
<line x1="73.70" y1="311.50" x2="73.70" y2="313.30" stroke="#2a2a2a" stroke-width="0.7"/>
<line x1="77.12" y1="311.50" x2="77.12" y2="313.30" stroke="#2a2a2a" stroke-width="0.7"/>
<line x1="80.55" y1="311.50" x2="80.55" y2="314.30" stroke="#2a2a2a" stroke-width="1.0"/>
<line x1="83.97" y1="311.50" x2="83.97" y2="313.30" stroke="#2a2a2a" stroke-width="0.7"/>
<line x1="87.40" y1="311.50" x2="87.40" y2="313.30" stroke="#2a2a2a" stroke-width="0.7"/>
<line x1="90.82" y1="311.50" x2="90.82" y2="313.30" stroke="#2a2a2a" stroke-width="0.7"/>
<line x1="94.25" y1="311.50" x2="94.25" y2="313.30" stroke="#2a2a2a" stroke-width="0.7"/>
<line x1="97.67" y1="311.50" x2="97.67" y2="313.30" stroke="#2a2a2a" stroke-width="0.7"/>
<line x1="101.10" y1="311.50" x2="101.10" y2="313.30" stroke="#2a2a2a" stroke-width="0.7"/>
<line x1="104.52" y1="311.50" x2="104.52" y2="313.30" stroke="#2a2a2a" stroke-width="0.7"/>
<line x1="107.95" y1="311.50" x2="107.95" y2="313.30" stroke="#2a2a2a" stroke-width="0.7"/>
<line x1="111.38" y1="311.50" x2="111.38" y2="313.30" stroke="#2a2a2a" stroke-width="0.7"/>
<line x1="114.80" y1="311.50" x2="114.80" y2="314.30" stroke="#2a2a2a" stroke-width="1.0"/>
<line x1="118.22" y1="311.50" x2="118.22" y2="313.30" stroke="#2a2a2a" stroke-width="0.7"/>
<line x1="121.65" y1="311.50" x2="121.65" y2="313.30" stroke="#2a2a2a" stroke-width="0.7"/>
<line x1="125.07" y1="311.50" x2="125.07" y2="313.30" stroke="#2a2a2a" stroke-width="0.7"/>
<line x1="128.50" y1="311.50" x2="128.50" y2="313.30" stroke="#2a2a2a" stroke-width="0.7"/>
<line x1="131.93" y1="311.50" x2="131.93" y2="313.30" stroke="#2a2a2a" stroke-width="0.7"/>
<line x1="135.35" y1="311.50" x2="135.35" y2="313.30" stroke="#2a2a2a" stroke-width="0.7"/>
<line x1="138.77" y1="311.50" x2="138.77" y2="313.30" stroke="#2a2a2a" stroke-width="0.7"/>
<line x1="142.20" y1="311.50" x2="142.20" y2="313.30" stroke="#2a2a2a" stroke-width="0.7"/>
<line x1="145.62" y1="311.50" x2="145.62" y2="313.30" stroke="#2a2a2a" stroke-width="0.7"/>
<line x1="149.05" y1="311.50" x2="149.05" y2="314.30" stroke="#2a2a2a" stroke-width="1.0"/>
<line x1="152.47" y1="311.50" x2="152.47" y2="313.30" stroke="#2a2a2a" stroke-width="0.7"/>
<line x1="155.90" y1="311.50" x2="155.90" y2="313.30" stroke="#2a2a2a" stroke-width="0.7"/>
<line x1="159.32" y1="311.50" x2="159.32" y2="313.30" stroke="#2a2a2a" stroke-width="0.7"/>
<line x1="162.75" y1="311.50" x2="162.75" y2="313.30" stroke="#2a2a2a" stroke-width="0.7"/>
<line x1="166.18" y1="311.50" x2="166.18" y2="313.30" stroke="#2a2a2a" stroke-width="0.7"/>
<line x1="169.60" y1="311.50" x2="169.60" y2="313.30" stroke="#2a2a2a" stroke-width="0.7"/>
<line x1="173.02" y1="311.50" x2="173.02" y2="313.30" stroke="#2a2a2a" stroke-width="0.7"/>
<line x1="176.45" y1="311.50" x2="176.45" y2="313.30" stroke="#2a2a2a" stroke-width="0.7"/>
<line x1="179.88" y1="311.50" x2="179.88" y2="313.30" stroke="#2a2a2a" stroke-width="0.7"/>
<line x1="183.30" y1="311.50" x2="183.30" y2="314.10" stroke="#2a2a2a" stroke-width="1.0"/>
<line x1="191.05" y1="311.50" x2="191.05" y2="313.10" stroke="#2a2a2a" stroke-width="0.7"/>
<line x1="194.80" y1="311.50" x2="194.80" y2="313.10" stroke="#2a2a2a" stroke-width="0.7"/>
<line x1="198.55" y1="311.50" x2="198.55" y2="313.10" stroke="#2a2a2a" stroke-width="0.7"/>
<line x1="202.30" y1="311.50" x2="202.30" y2="314.10" stroke="#2a2a2a" stroke-width="1.0"/>
<line x1="206.05" y1="311.50" x2="206.05" y2="313.10" stroke="#2a2a2a" stroke-width="0.7"/>
<line x1="209.80" y1="311.50" x2="209.80" y2="313.10" stroke="#2a2a2a" stroke-width="0.7"/>
<line x1="213.55" y1="311.50" x2="213.55" y2="313.10" stroke="#2a2a2a" stroke-width="0.7"/>
<line x1="217.30" y1="311.50" x2="217.30" y2="314.10" stroke="#2a2a2a" stroke-width="1.0"/>
<text x="46.30" y="321.70" font-size="7.9" fill="#3a3a3a" text-anchor="middle" stroke="#3a3a3a" stroke-width="0.14">0</text>
<text x="80.55" y="321.70" font-size="7.9" fill="#3a3a3a" text-anchor="middle" stroke="#3a3a3a" stroke-width="0.14">5</text>
<text x="114.80" y="321.70" font-size="7.9" fill="#3a3a3a" text-anchor="middle" stroke="#3a3a3a" stroke-width="0.14">10</text>
<text x="149.05" y="321.70" font-size="7.9" fill="#3a3a3a" text-anchor="middle" stroke="#3a3a3a" stroke-width="0.14">15</text>
<text x="182.60" y="321.70" font-size="7.9" fill="#3a3a3a" text-anchor="middle" stroke="#3a3a3a" stroke-width="0.14">20</text>
<text x="202.30" y="321.70" font-size="7.9" fill="#3a3a3a" text-anchor="middle" stroke="#3a3a3a" stroke-width="0.14">40</text>
<text x="217.30" y="321.70" font-size="7.9" fill="#3a3a3a" text-anchor="middle" stroke="#3a3a3a" stroke-width="0.14">60</text>
<text x="132.40" y="333.80" font-size="8.4" fill="#3a3a3a" text-anchor="middle" textLength="95" lengthAdjust="spacingAndGlyphs" stroke="#3a3a3a" stroke-width="0.14">Days in neutropenia (D0-60)</text>
<line x1="42.00" y1="237.20" x2="46.30" y2="237.20" stroke="#2a2a2a" stroke-width="1.2"/>
<line x1="42.00" y1="281.20" x2="46.30" y2="281.20" stroke="#2a2a2a" stroke-width="1.2"/>
<text x="40.00" y="239.80" font-size="7.9" fill="#5cb85f" text-anchor="end" textLength="14.8" lengthAdjust="spacingAndGlyphs" stroke="#5cb85f" stroke-width="0.14">Low</text>
<text x="39.70" y="283.90" font-size="7.9" fill="#d0485f" text-anchor="end" textLength="16.7" lengthAdjust="spacingAndGlyphs" stroke="#d0485f" stroke-width="0.14">High</text>
<line x1="228.60" y1="237.00" x2="228.60" y2="281.00" stroke="#222" stroke-width="1.1"/>
<line x1="234.00" y1="253.10" x2="237.40" y2="253.10" stroke="#2a2a2a" stroke-width="0.65"/>
<line x1="234.85" y1="251.63" x2="236.55" y2="254.57" stroke="#2a2a2a" stroke-width="0.65"/>
<line x1="236.55" y1="251.63" x2="234.85" y2="254.57" stroke="#2a2a2a" stroke-width="0.65"/>
<line x1="234.00" y1="257.00" x2="237.40" y2="257.00" stroke="#2a2a2a" stroke-width="0.65"/>
<line x1="234.85" y1="255.53" x2="236.55" y2="258.47" stroke="#2a2a2a" stroke-width="0.65"/>
<line x1="236.55" y1="255.53" x2="234.85" y2="258.47" stroke="#2a2a2a" stroke-width="0.65"/>
<line x1="234.00" y1="260.90" x2="237.40" y2="260.90" stroke="#2a2a2a" stroke-width="0.65"/>
<line x1="234.85" y1="259.43" x2="236.55" y2="262.37" stroke="#2a2a2a" stroke-width="0.65"/>
<line x1="236.55" y1="259.43" x2="234.85" y2="262.37" stroke="#2a2a2a" stroke-width="0.65"/>
<line x1="234.00" y1="264.80" x2="237.40" y2="264.80" stroke="#2a2a2a" stroke-width="0.65"/>
<line x1="234.85" y1="263.33" x2="236.55" y2="266.27" stroke="#2a2a2a" stroke-width="0.65"/>
<line x1="236.55" y1="263.33" x2="234.85" y2="266.27" stroke="#2a2a2a" stroke-width="0.65"/>
<text x="374.40" y="187.00" font-size="6.9" fill="#3a3a3a" text-anchor="middle" textLength="91" lengthAdjust="spacingAndGlyphs" stroke="#3a3a3a" stroke-width="0.07">European validation cohort:</text>
<text x="374.50" y="195.80" font-size="6.9" fill="#3a3a3a" text-anchor="middle" textLength="167" lengthAdjust="spacingAndGlyphs" stroke="#3a3a3a" stroke-width="0.07">Phenotypes of neutropenia by CAR-HEMATOTOX</text>
<rect x="318.30" y="272.52" width="30.90" height="50.18" fill="#c9e6c9" stroke="none" stroke-width="1"/>
<rect x="318.30" y="213.43" width="30.90" height="59.09" fill="#fcda8a" stroke="none" stroke-width="1"/>
<rect x="318.30" y="211.20" width="30.90" height="2.23" fill="#cf9a6c" stroke="none" stroke-width="1"/>
<line x1="318.30" y1="272.52" x2="349.20" y2="272.52" stroke="#4a4a4a" stroke-width="0.9"/>
<line x1="318.30" y1="213.43" x2="349.20" y2="213.43" stroke="#4a4a4a" stroke-width="0.9"/>
<rect x="318.30" y="211.20" width="30.90" height="111.50" fill="none" stroke="#4a4a4a" stroke-width="1.0"/>
<rect x="365.20" y="312.66" width="31.10" height="10.04" fill="#c9e6c9" stroke="none" stroke-width="1"/>
<rect x="365.20" y="255.80" width="31.10" height="56.86" fill="#fcda8a" stroke="none" stroke-width="1"/>
<rect x="365.20" y="211.20" width="31.10" height="44.60" fill="#cf9a6c" stroke="none" stroke-width="1"/>
<line x1="365.20" y1="312.66" x2="396.30" y2="312.66" stroke="#4a4a4a" stroke-width="0.9"/>
<line x1="365.20" y1="255.80" x2="396.30" y2="255.80" stroke="#4a4a4a" stroke-width="0.9"/>
<rect x="365.20" y="211.20" width="31.10" height="111.50" fill="none" stroke="#4a4a4a" stroke-width="1.0"/>
<text x="333.80" y="209.80" font-size="6.6" fill="#444" text-anchor="middle" stroke-width="0">2%</text>
<text x="334.60" y="248.50" font-size="6.6" fill="#444" text-anchor="middle" textLength="12" lengthAdjust="spacingAndGlyphs" stroke-width="0">53%</text>
<text x="334.60" y="301.80" font-size="6.6" fill="#444" text-anchor="middle" textLength="12" lengthAdjust="spacingAndGlyphs" stroke-width="0">45%</text>
<text x="381.60" y="236.90" font-size="6.6" fill="#444" text-anchor="middle" textLength="12" lengthAdjust="spacingAndGlyphs" stroke-width="0">40%</text>
<text x="381.40" y="288.00" font-size="6.6" fill="#444" text-anchor="middle" textLength="11.5" lengthAdjust="spacingAndGlyphs" stroke-width="0">51%</text>
<text x="381.00" y="320.40" font-size="6.6" fill="#444" text-anchor="middle" stroke-width="0">9%</text>
<line x1="302.00" y1="323.30" x2="302.00" y2="210.70" stroke="#2a2a2a" stroke-width="1.2"/>
<line x1="301.40" y1="322.70" x2="412.50" y2="322.70" stroke="#2a2a2a" stroke-width="1.2"/>
<line x1="299.40" y1="322.70" x2="302.00" y2="322.70" stroke="#2a2a2a" stroke-width="1"/>
<text x="298.40" y="325.50" font-size="7.9" fill="#3a3a3a" text-anchor="end" stroke="#3a3a3a" stroke-width="0.14">0</text>
<line x1="299.40" y1="300.40" x2="302.00" y2="300.40" stroke="#2a2a2a" stroke-width="1"/>
<text x="298.40" y="303.20" font-size="7.9" fill="#3a3a3a" text-anchor="end" stroke="#3a3a3a" stroke-width="0.14">20</text>
<line x1="299.40" y1="278.10" x2="302.00" y2="278.10" stroke="#2a2a2a" stroke-width="1"/>
<text x="298.40" y="280.90" font-size="7.9" fill="#3a3a3a" text-anchor="end" stroke="#3a3a3a" stroke-width="0.14">40</text>
<line x1="299.40" y1="255.80" x2="302.00" y2="255.80" stroke="#2a2a2a" stroke-width="1"/>
<text x="298.40" y="258.60" font-size="7.9" fill="#3a3a3a" text-anchor="end" stroke="#3a3a3a" stroke-width="0.14">60</text>
<line x1="299.40" y1="233.50" x2="302.00" y2="233.50" stroke="#2a2a2a" stroke-width="1"/>
<text x="298.40" y="236.30" font-size="7.9" fill="#3a3a3a" text-anchor="end" stroke="#3a3a3a" stroke-width="0.14">80</text>
<line x1="299.40" y1="211.20" x2="302.00" y2="211.20" stroke="#2a2a2a" stroke-width="1"/>
<text x="298.40" y="214.00" font-size="7.9" fill="#3a3a3a" text-anchor="end" stroke="#3a3a3a" stroke-width="0.14">100</text>
<line x1="300.50" y1="317.12" x2="302.00" y2="317.12" stroke="#2a2a2a" stroke-width="0.7"/>
<line x1="300.50" y1="311.55" x2="302.00" y2="311.55" stroke="#2a2a2a" stroke-width="0.7"/>
<line x1="300.50" y1="305.97" x2="302.00" y2="305.97" stroke="#2a2a2a" stroke-width="0.7"/>
<line x1="300.50" y1="294.82" x2="302.00" y2="294.82" stroke="#2a2a2a" stroke-width="0.7"/>
<line x1="300.50" y1="289.25" x2="302.00" y2="289.25" stroke="#2a2a2a" stroke-width="0.7"/>
<line x1="300.50" y1="283.68" x2="302.00" y2="283.68" stroke="#2a2a2a" stroke-width="0.7"/>
<line x1="300.50" y1="272.52" x2="302.00" y2="272.52" stroke="#2a2a2a" stroke-width="0.7"/>
<line x1="300.50" y1="266.95" x2="302.00" y2="266.95" stroke="#2a2a2a" stroke-width="0.7"/>
<line x1="300.50" y1="261.38" x2="302.00" y2="261.38" stroke="#2a2a2a" stroke-width="0.7"/>
<line x1="300.50" y1="250.22" x2="302.00" y2="250.22" stroke="#2a2a2a" stroke-width="0.7"/>
<line x1="300.50" y1="244.65" x2="302.00" y2="244.65" stroke="#2a2a2a" stroke-width="0.7"/>
<line x1="300.50" y1="239.07" x2="302.00" y2="239.07" stroke="#2a2a2a" stroke-width="0.7"/>
<line x1="300.50" y1="227.92" x2="302.00" y2="227.92" stroke="#2a2a2a" stroke-width="0.7"/>
<line x1="300.50" y1="222.35" x2="302.00" y2="222.35" stroke="#2a2a2a" stroke-width="0.7"/>
<line x1="300.50" y1="216.77" x2="302.00" y2="216.77" stroke="#2a2a2a" stroke-width="0.7"/>
<line x1="333.80" y1="322.70" x2="333.80" y2="325.10" stroke="#2a2a2a" stroke-width="1"/>
<line x1="380.80" y1="322.70" x2="380.80" y2="325.10" stroke="#2a2a2a" stroke-width="1"/>
<text x="333.85" y="334.50" font-size="7.9" fill="#3a3a3a" text-anchor="middle" textLength="14.5" lengthAdjust="spacingAndGlyphs" stroke="#3a3a3a" stroke-width="0.14">Low</text>
<text x="380.80" y="334.50" font-size="7.9" fill="#3a3a3a" text-anchor="middle" textLength="16.2" lengthAdjust="spacingAndGlyphs" stroke="#3a3a3a" stroke-width="0.14">High</text>
<text x="282.00" y="267.00" font-size="8.2" fill="#3a3a3a" text-anchor="middle" textLength="75" lengthAdjust="spacingAndGlyphs" stroke="#3a3a3a" stroke-width="0.14" transform="rotate(-90 282.00 267.00)">Percent of patients (%)</text>
<rect x="410.50" y="214.80" width="9.70" height="3.00" fill="#cf9a6c" stroke="#4a4a4a" stroke-width="0.9" rx="0.6"/>
<text x="424.30" y="218.70" font-size="7.0" fill="#3a3a3a" text-anchor="start" textLength="26" lengthAdjust="spacingAndGlyphs" stroke="#3a3a3a" stroke-width="0.14">Aplastic</text>
<rect x="410.50" y="225.80" width="9.70" height="3.00" fill="#fcda8a" stroke="#4a4a4a" stroke-width="0.9" rx="0.6"/>
<text x="424.30" y="229.70" font-size="7.0" fill="#3a3a3a" text-anchor="start" textLength="70" lengthAdjust="spacingAndGlyphs" stroke="#3a3a3a" stroke-width="0.14">Intermittent recovery</text>
<rect x="410.50" y="236.80" width="9.70" height="3.00" fill="#c9e6c9" stroke="#4a4a4a" stroke-width="0.9" rx="0.6"/>
<text x="424.30" y="240.70" font-size="7.0" fill="#3a3a3a" text-anchor="start" textLength="50" lengthAdjust="spacingAndGlyphs" stroke="#3a3a3a" stroke-width="0.14">Quick recovery</text>
<text x="57.00" y="366.60" font-size="6.9" fill="#3a3a3a" text-anchor="start" textLength="180" lengthAdjust="spacingAndGlyphs" stroke="#3a3a3a" stroke-width="0.07">European validation cohort: aggregate ANC over time</text>
<polygon points="46.20,497.50 46.20,419.00 49.40,416.80 54.40,403.00 59.60,408.90 65.20,407.20 75.60,443.20 80.90,440.60 86.20,450.50 91.20,465.10 108.00,485.00 113.00,483.20 118.30,484.70 123.60,483.00 129.60,473.60 134.90,470.30 139.60,469.30 144.90,463.00 150.40,437.80 160.80,423.00 173.30,438.50 186.20,462.40 198.80,462.20 211.50,450.10 224.60,446.20 238.80,436.50 251.50,416.10 251.50,497.50" fill="#ebf4ec"/>
<polygon points="46.20,497.50 46.20,451.80 49.40,454.50 54.40,439.80 59.60,436.20 65.20,444.50 75.30,470.40 80.60,477.70 86.60,489.60 91.90,496.90 107.10,497.50 113.00,494.60 118.30,494.20 123.60,490.90 129.60,485.00 134.90,479.50 144.90,467.00 150.20,464.60 160.80,463.40 173.30,465.50 186.20,467.00 198.80,475.00 211.50,461.90 224.60,452.70 238.80,446.20 251.50,436.50 251.50,497.50" fill="#e2e0cf"/>
<line x1="46.20" y1="451.20" x2="256.50" y2="451.20" stroke="#a8a8a8" stroke-width="0.6" stroke-dasharray="1.0,0.7"/>
<line x1="46.20" y1="482.30" x2="256.50" y2="482.30" stroke="#8a8a8a" stroke-width="0.7" stroke-dasharray="1.1,1.1"/>
<polyline points="46.20,419.00 49.40,416.80 54.40,403.00 59.60,408.90 65.20,407.20 75.60,443.20 80.90,440.60 86.20,450.50 91.20,465.10 108.00,485.00 113.00,483.20 118.30,484.70 123.60,483.00 129.60,473.60 134.90,470.30 139.60,469.30 144.90,463.00 150.40,437.80 160.80,423.00 173.30,438.50 186.20,462.40 198.80,462.20 211.50,450.10 224.60,446.20 238.80,436.50 251.50,416.10" fill="none" stroke="#3cb043" stroke-width="1.55" stroke-linejoin="round"/>
<polyline points="46.20,451.80 49.40,454.50 54.40,439.80 59.60,436.20 65.20,444.50 75.30,470.40 80.60,477.70 86.60,489.60 91.90,496.90 107.10,497.50 113.00,494.60 118.30,494.20 123.60,490.90 129.60,485.00 134.90,479.50 144.90,467.00 150.20,464.60 160.80,463.40 173.30,465.50 186.20,467.00 198.80,475.00 211.50,461.90 224.60,452.70 238.80,446.20 251.50,436.50" fill="none" stroke="#c0711f" stroke-width="1.6" stroke-linejoin="round"/>
<line x1="43.60" y1="498.10" x2="43.60" y2="373.90" stroke="#2a2a2a" stroke-width="1.2"/>
<line x1="43.00" y1="497.50" x2="258.00" y2="497.50" stroke="#2a2a2a" stroke-width="1.2"/>
<line x1="41.00" y1="497.50" x2="43.60" y2="497.50" stroke="#2a2a2a" stroke-width="1"/>
<text x="38.70" y="500.25" font-size="7.7" fill="#3a3a3a" text-anchor="end" stroke="#3a3a3a" stroke-width="0.14">0</text>
<line x1="41.00" y1="466.75" x2="43.60" y2="466.75" stroke="#2a2a2a" stroke-width="1"/>
<text x="38.70" y="469.50" font-size="7.7" fill="#3a3a3a" text-anchor="end" textLength="17.6" lengthAdjust="spacingAndGlyphs" stroke="#3a3a3a" stroke-width="0.14">1000</text>
<line x1="41.00" y1="436.00" x2="43.60" y2="436.00" stroke="#2a2a2a" stroke-width="1"/>
<text x="38.70" y="438.75" font-size="7.7" fill="#3a3a3a" text-anchor="end" textLength="17.6" lengthAdjust="spacingAndGlyphs" stroke="#3a3a3a" stroke-width="0.14">2000</text>
<line x1="41.00" y1="405.25" x2="43.60" y2="405.25" stroke="#2a2a2a" stroke-width="1"/>
<text x="38.70" y="408.00" font-size="7.7" fill="#3a3a3a" text-anchor="end" textLength="17.6" lengthAdjust="spacingAndGlyphs" stroke="#3a3a3a" stroke-width="0.14">3000</text>
<line x1="41.00" y1="374.50" x2="43.60" y2="374.50" stroke="#2a2a2a" stroke-width="1"/>
<text x="38.70" y="377.25" font-size="7.7" fill="#3a3a3a" text-anchor="end" textLength="17.6" lengthAdjust="spacingAndGlyphs" stroke="#3a3a3a" stroke-width="0.14">4000</text>
<line x1="41.80" y1="494.43" x2="43.60" y2="494.43" stroke="#2a2a2a" stroke-width="0.8"/>
<line x1="41.80" y1="491.35" x2="43.60" y2="491.35" stroke="#2a2a2a" stroke-width="0.8"/>
<line x1="41.80" y1="488.27" x2="43.60" y2="488.27" stroke="#2a2a2a" stroke-width="0.8"/>
<line x1="41.80" y1="485.20" x2="43.60" y2="485.20" stroke="#2a2a2a" stroke-width="0.8"/>
<line x1="41.80" y1="482.12" x2="43.60" y2="482.12" stroke="#2a2a2a" stroke-width="0.8"/>
<line x1="41.80" y1="479.05" x2="43.60" y2="479.05" stroke="#2a2a2a" stroke-width="0.8"/>
<line x1="41.80" y1="475.98" x2="43.60" y2="475.98" stroke="#2a2a2a" stroke-width="0.8"/>
<line x1="41.80" y1="472.90" x2="43.60" y2="472.90" stroke="#2a2a2a" stroke-width="0.8"/>
<line x1="41.80" y1="469.82" x2="43.60" y2="469.82" stroke="#2a2a2a" stroke-width="0.8"/>
<line x1="41.80" y1="463.68" x2="43.60" y2="463.68" stroke="#2a2a2a" stroke-width="0.8"/>
<line x1="41.80" y1="460.60" x2="43.60" y2="460.60" stroke="#2a2a2a" stroke-width="0.8"/>
<line x1="41.80" y1="457.52" x2="43.60" y2="457.52" stroke="#2a2a2a" stroke-width="0.8"/>
<line x1="41.80" y1="454.45" x2="43.60" y2="454.45" stroke="#2a2a2a" stroke-width="0.8"/>
<line x1="41.80" y1="451.38" x2="43.60" y2="451.38" stroke="#2a2a2a" stroke-width="0.8"/>
<line x1="41.80" y1="448.30" x2="43.60" y2="448.30" stroke="#2a2a2a" stroke-width="0.8"/>
<line x1="41.80" y1="445.23" x2="43.60" y2="445.23" stroke="#2a2a2a" stroke-width="0.8"/>
<line x1="41.80" y1="442.15" x2="43.60" y2="442.15" stroke="#2a2a2a" stroke-width="0.8"/>
<line x1="41.80" y1="439.07" x2="43.60" y2="439.07" stroke="#2a2a2a" stroke-width="0.8"/>
<line x1="41.80" y1="432.93" x2="43.60" y2="432.93" stroke="#2a2a2a" stroke-width="0.8"/>
<line x1="41.80" y1="429.85" x2="43.60" y2="429.85" stroke="#2a2a2a" stroke-width="0.8"/>
<line x1="41.80" y1="426.77" x2="43.60" y2="426.77" stroke="#2a2a2a" stroke-width="0.8"/>
<line x1="41.80" y1="423.70" x2="43.60" y2="423.70" stroke="#2a2a2a" stroke-width="0.8"/>
<line x1="41.80" y1="420.62" x2="43.60" y2="420.62" stroke="#2a2a2a" stroke-width="0.8"/>
<line x1="41.80" y1="417.55" x2="43.60" y2="417.55" stroke="#2a2a2a" stroke-width="0.8"/>
<line x1="41.80" y1="414.48" x2="43.60" y2="414.48" stroke="#2a2a2a" stroke-width="0.8"/>
<line x1="41.80" y1="411.40" x2="43.60" y2="411.40" stroke="#2a2a2a" stroke-width="0.8"/>
<line x1="41.80" y1="408.32" x2="43.60" y2="408.32" stroke="#2a2a2a" stroke-width="0.8"/>
<line x1="41.80" y1="402.18" x2="43.60" y2="402.18" stroke="#2a2a2a" stroke-width="0.8"/>
<line x1="41.80" y1="399.10" x2="43.60" y2="399.10" stroke="#2a2a2a" stroke-width="0.8"/>
<line x1="41.80" y1="396.02" x2="43.60" y2="396.02" stroke="#2a2a2a" stroke-width="0.8"/>
<line x1="41.80" y1="392.95" x2="43.60" y2="392.95" stroke="#2a2a2a" stroke-width="0.8"/>
<line x1="41.80" y1="389.88" x2="43.60" y2="389.88" stroke="#2a2a2a" stroke-width="0.8"/>
<line x1="41.80" y1="386.80" x2="43.60" y2="386.80" stroke="#2a2a2a" stroke-width="0.8"/>
<line x1="41.80" y1="383.73" x2="43.60" y2="383.73" stroke="#2a2a2a" stroke-width="0.8"/>
<line x1="41.80" y1="380.65" x2="43.60" y2="380.65" stroke="#2a2a2a" stroke-width="0.8"/>
<line x1="41.80" y1="377.57" x2="43.60" y2="377.57" stroke="#2a2a2a" stroke-width="0.8"/>
<line x1="48.10" y1="497.50" x2="48.10" y2="499.80" stroke="#2a2a2a" stroke-width="0.9"/>
<text x="48.10" y="505.70" font-size="5.2" fill="#444" text-anchor="middle" textLength="3.9" lengthAdjust="spacingAndGlyphs" stroke="#444" stroke-width="0.14">-5</text>
<line x1="53.50" y1="497.50" x2="53.50" y2="499.80" stroke="#2a2a2a" stroke-width="0.9"/>
<text x="53.50" y="505.70" font-size="5.2" fill="#444" text-anchor="middle" textLength="3.9" lengthAdjust="spacingAndGlyphs" stroke="#444" stroke-width="0.14">-4</text>
<line x1="58.90" y1="497.50" x2="58.90" y2="499.80" stroke="#2a2a2a" stroke-width="0.9"/>
<text x="58.90" y="505.70" font-size="5.2" fill="#444" text-anchor="middle" textLength="3.9" lengthAdjust="spacingAndGlyphs" stroke="#444" stroke-width="0.14">-3</text>
<line x1="64.30" y1="497.50" x2="64.30" y2="499.80" stroke="#2a2a2a" stroke-width="0.9"/>
<text x="64.30" y="505.70" font-size="5.2" fill="#444" text-anchor="middle" textLength="3.9" lengthAdjust="spacingAndGlyphs" stroke="#444" stroke-width="0.14">-2</text>
<line x1="69.70" y1="497.50" x2="69.70" y2="499.80" stroke="#2a2a2a" stroke-width="0.9"/>
<text x="69.70" y="505.70" font-size="5.2" fill="#444" text-anchor="middle" textLength="3.9" lengthAdjust="spacingAndGlyphs" stroke="#444" stroke-width="0.14">-1</text>
<line x1="75.60" y1="497.50" x2="75.60" y2="499.80" stroke="#2a2a2a" stroke-width="0.9"/>
<text x="75.60" y="505.70" font-size="5.2" fill="#444" text-anchor="middle" stroke="#444" stroke-width="0.14">0</text>
<line x1="81.00" y1="497.50" x2="81.00" y2="499.80" stroke="#2a2a2a" stroke-width="0.9"/>
<text x="81.00" y="505.70" font-size="5.2" fill="#444" text-anchor="middle" stroke="#444" stroke-width="0.14">1</text>
<line x1="86.40" y1="497.50" x2="86.40" y2="499.80" stroke="#2a2a2a" stroke-width="0.9"/>
<text x="86.40" y="505.70" font-size="5.2" fill="#444" text-anchor="middle" stroke="#444" stroke-width="0.14">2</text>
<line x1="91.80" y1="497.50" x2="91.80" y2="499.80" stroke="#2a2a2a" stroke-width="0.9"/>
<text x="91.80" y="505.70" font-size="5.2" fill="#444" text-anchor="middle" stroke="#444" stroke-width="0.14">3</text>
<line x1="97.20" y1="497.50" x2="97.20" y2="499.80" stroke="#2a2a2a" stroke-width="0.9"/>
<text x="97.20" y="505.70" font-size="5.2" fill="#444" text-anchor="middle" stroke="#444" stroke-width="0.14">4</text>
<line x1="102.60" y1="497.50" x2="102.60" y2="499.80" stroke="#2a2a2a" stroke-width="0.9"/>
<text x="102.60" y="505.70" font-size="5.2" fill="#444" text-anchor="middle" stroke="#444" stroke-width="0.14">5</text>
<line x1="108.00" y1="497.50" x2="108.00" y2="499.80" stroke="#2a2a2a" stroke-width="0.9"/>
<text x="108.00" y="505.70" font-size="5.2" fill="#444" text-anchor="middle" stroke="#444" stroke-width="0.14">6</text>
<line x1="113.30" y1="497.50" x2="113.30" y2="499.80" stroke="#2a2a2a" stroke-width="0.9"/>
<text x="113.30" y="505.70" font-size="5.2" fill="#444" text-anchor="middle" stroke="#444" stroke-width="0.14">7</text>
<line x1="118.60" y1="497.50" x2="118.60" y2="499.80" stroke="#2a2a2a" stroke-width="0.9"/>
<text x="118.60" y="505.70" font-size="5.2" fill="#444" text-anchor="middle" stroke="#444" stroke-width="0.14">8</text>
<line x1="123.90" y1="497.50" x2="123.90" y2="499.80" stroke="#2a2a2a" stroke-width="0.9"/>
<text x="123.90" y="505.70" font-size="5.2" fill="#444" text-anchor="middle" stroke="#444" stroke-width="0.14">9</text>
<line x1="129.30" y1="497.50" x2="129.30" y2="499.80" stroke="#2a2a2a" stroke-width="0.9"/>
<text x="129.30" y="505.70" font-size="5.2" fill="#444" text-anchor="middle" textLength="3.8" lengthAdjust="spacingAndGlyphs" stroke="#444" stroke-width="0.14">10</text>
<line x1="134.70" y1="497.50" x2="134.70" y2="499.80" stroke="#2a2a2a" stroke-width="0.9"/>
<text x="134.70" y="505.70" font-size="5.2" fill="#444" text-anchor="middle" textLength="3.8" lengthAdjust="spacingAndGlyphs" stroke="#444" stroke-width="0.14">11</text>
<line x1="139.90" y1="497.50" x2="139.90" y2="499.80" stroke="#2a2a2a" stroke-width="0.9"/>
<text x="139.90" y="505.70" font-size="5.2" fill="#444" text-anchor="middle" textLength="3.8" lengthAdjust="spacingAndGlyphs" stroke="#444" stroke-width="0.14">12</text>
<line x1="145.00" y1="497.50" x2="145.00" y2="499.80" stroke="#2a2a2a" stroke-width="0.9"/>
<text x="145.00" y="505.70" font-size="5.2" fill="#444" text-anchor="middle" textLength="3.8" lengthAdjust="spacingAndGlyphs" stroke="#444" stroke-width="0.14">13</text>
<line x1="150.20" y1="497.50" x2="150.20" y2="499.80" stroke="#2a2a2a" stroke-width="0.9"/>
<text x="150.20" y="505.70" font-size="5.2" fill="#444" text-anchor="middle" textLength="3.8" lengthAdjust="spacingAndGlyphs" stroke="#444" stroke-width="0.14">14</text>
<line x1="161.50" y1="497.50" x2="161.50" y2="499.80" stroke="#2a2a2a" stroke-width="0.9"/>
<text x="161.50" y="505.80" font-size="5.0" fill="#555" text-anchor="middle" textLength="6.0" lengthAdjust="spacingAndGlyphs" stroke="#555" stroke-width="0.14">W3</text>
<line x1="174.40" y1="497.50" x2="174.40" y2="499.80" stroke="#2a2a2a" stroke-width="0.9"/>
<text x="174.40" y="505.80" font-size="5.0" fill="#555" text-anchor="middle" textLength="6.0" lengthAdjust="spacingAndGlyphs" stroke="#555" stroke-width="0.14">W4</text>
<line x1="187.00" y1="497.50" x2="187.00" y2="499.80" stroke="#2a2a2a" stroke-width="0.9"/>
<text x="187.00" y="505.80" font-size="5.0" fill="#555" text-anchor="middle" textLength="6.0" lengthAdjust="spacingAndGlyphs" stroke="#555" stroke-width="0.14">W5</text>
<line x1="199.50" y1="497.50" x2="199.50" y2="499.80" stroke="#2a2a2a" stroke-width="0.9"/>
<text x="199.50" y="505.80" font-size="5.0" fill="#555" text-anchor="middle" textLength="6.0" lengthAdjust="spacingAndGlyphs" stroke="#555" stroke-width="0.14">W6</text>
<line x1="212.20" y1="497.50" x2="212.20" y2="499.80" stroke="#2a2a2a" stroke-width="0.9"/>
<text x="212.20" y="505.80" font-size="5.0" fill="#555" text-anchor="middle" textLength="6.0" lengthAdjust="spacingAndGlyphs" stroke="#555" stroke-width="0.14">W7</text>
<line x1="224.90" y1="497.50" x2="224.90" y2="499.80" stroke="#2a2a2a" stroke-width="0.9"/>
<text x="224.90" y="505.80" font-size="5.0" fill="#555" text-anchor="middle" textLength="6.0" lengthAdjust="spacingAndGlyphs" stroke="#555" stroke-width="0.14">W8</text>
<line x1="239.00" y1="497.50" x2="239.00" y2="499.80" stroke="#2a2a2a" stroke-width="0.9"/>
<text x="239.00" y="505.80" font-size="5.0" fill="#555" text-anchor="middle" textLength="6.0" lengthAdjust="spacingAndGlyphs" stroke="#555" stroke-width="0.14">M3</text>
<line x1="251.60" y1="497.50" x2="251.60" y2="499.80" stroke="#2a2a2a" stroke-width="0.9"/>
<text x="251.60" y="505.80" font-size="5.0" fill="#555" text-anchor="middle" textLength="6.0" lengthAdjust="spacingAndGlyphs" stroke="#555" stroke-width="0.14">M4</text>
<circle cx="153.70" cy="497.50" r="1.3" fill="#777" stroke="#222" stroke-width="0.9"/>
<circle cx="231.20" cy="497.50" r="1.3" fill="#777" stroke="#222" stroke-width="0.9"/>
<text x="54.35" y="512.90" font-size="7.0" fill="#3a3a3a" text-anchor="middle" textLength="26.5" lengthAdjust="spacingAndGlyphs" stroke="#3a3a3a" stroke-width="0.14">Baseline</text>
<text x="89.80" y="516.10" font-size="9.0" fill="#3a3a3a" text-anchor="middle" textLength="15.6" lengthAdjust="spacingAndGlyphs" stroke="#3a3a3a" stroke-width="0.14">Days</text>
<text x="190.70" y="516.20" font-size="9.2" fill="#3a3a3a" text-anchor="middle" textLength="22.2" lengthAdjust="spacingAndGlyphs" stroke="#3a3a3a" stroke-width="0.14">Weeks</text>
<text x="244.90" y="516.20" font-size="9.2" fill="#3a3a3a" text-anchor="middle" textLength="25.8" lengthAdjust="spacingAndGlyphs" stroke="#3a3a3a" stroke-width="0.14">Months</text>
<line x1="50.00" y1="378.30" x2="57.50" y2="378.30" stroke="#c0711f" stroke-width="1.4"/>
<text x="60.50" y="380.90" font-size="7.6" fill="#c47c3a" text-anchor="start" textLength="82" lengthAdjust="spacingAndGlyphs" stroke="#c47c3a" stroke-width="0.14">CAR-HEMATOTOX High</text>
<line x1="50.00" y1="389.50" x2="57.50" y2="389.50" stroke="#3cb043" stroke-width="1.4"/>
<text x="60.50" y="392.10" font-size="7.6" fill="#4fb152" text-anchor="start" textLength="80" lengthAdjust="spacingAndGlyphs" stroke="#4fb152" stroke-width="0.14">CAR-HEMATOTOX Low</text>
<text x="202.4" y="387.4" font-size="7.2" fill="#333" textLength="54" lengthAdjust="spacingAndGlyphs"><tspan font-style="italic">P</tspan> (AUC) = 0.035</text>
<text x="15.30" y="436.60" font-size="9.0" fill="#3a3a3a" text-anchor="middle" textLength="82.4" lengthAdjust="spacingAndGlyphs" stroke="#3a3a3a" stroke-width="0.14" transform="rotate(-90 15.30 436.60)">Abs. neutrophil count/µl</text>
<text x="295.40" y="366.60" font-size="6.9" fill="#3a3a3a" text-anchor="start" textLength="210" lengthAdjust="spacingAndGlyphs" stroke="#3a3a3a" stroke-width="0.07">European validation cohort: aggregate platelet count over time</text>
<polygon points="299.40,497.50 299.40,410.90 302.80,413.60 307.40,419.70 312.70,427.00 318.00,429.50 323.30,429.50 328.60,436.10 333.90,438.60 344.50,443.90 350.40,441.30 355.80,444.00 361.20,444.60 366.50,443.10 371.90,440.20 377.30,437.20 382.70,435.50 388.10,435.90 393.50,436.80 398.80,439.20 403.50,438.60 414.00,446.30 426.60,464.50 439.30,472.00 452.00,469.10 464.90,444.90 477.70,447.90 491.80,440.30 505.00,427.10 505.00,497.50" fill="#ebf4ec"/>
<polygon points="299.40,497.50 299.40,452.70 302.10,451.80 312.70,456.80 318.00,458.30 328.60,460.20 333.90,465.20 339.20,463.30 344.50,463.90 350.40,466.80 355.10,467.80 361.20,470.90 366.50,472.10 371.90,470.50 377.30,470.90 382.70,469.80 388.10,471.50 393.50,471.80 403.50,472.50 410.00,475.60 426.60,484.10 439.30,485.30 452.00,484.30 464.90,481.30 477.70,480.70 491.80,463.10 505.00,459.80 505.00,497.50" fill="#e2e0cf"/>
<line x1="299.40" y1="436.40" x2="510.00" y2="436.40" stroke="#a8a8a8" stroke-width="0.6" stroke-dasharray="1.0,0.7"/>
<line x1="299.40" y1="477.20" x2="510.00" y2="477.20" stroke="#8a8a8a" stroke-width="0.7" stroke-dasharray="1.1,1.1"/>
<polyline points="299.40,410.90 302.80,413.60 307.40,419.70 312.70,427.00 318.00,429.50 323.30,429.50 328.60,436.10 333.90,438.60 344.50,443.90 350.40,441.30 355.80,444.00 361.20,444.60 366.50,443.10 371.90,440.20 377.30,437.20 382.70,435.50 388.10,435.90 393.50,436.80 398.80,439.20 403.50,438.60 414.00,446.30 426.60,464.50 439.30,472.00 452.00,469.10 464.90,444.90 477.70,447.90 491.80,440.30 505.00,427.10" fill="none" stroke="#3cb043" stroke-width="1.55" stroke-linejoin="round"/>
<polyline points="299.40,452.70 302.10,451.80 312.70,456.80 318.00,458.30 328.60,460.20 333.90,465.20 339.20,463.30 344.50,463.90 350.40,466.80 355.10,467.80 361.20,470.90 366.50,472.10 371.90,470.50 377.30,470.90 382.70,469.80 388.10,471.50 393.50,471.80 403.50,472.50 410.00,475.60 426.60,484.10 439.30,485.30 452.00,484.30 464.90,481.30 477.70,480.70 491.80,463.10 505.00,459.80" fill="none" stroke="#c0711f" stroke-width="1.6" stroke-linejoin="round"/>
<line x1="296.70" y1="498.10" x2="296.70" y2="374.80" stroke="#2a2a2a" stroke-width="1.2"/>
<line x1="296.10" y1="497.50" x2="510.20" y2="497.50" stroke="#2a2a2a" stroke-width="1.2"/>
<line x1="292.10" y1="497.50" x2="296.70" y2="497.50" stroke="#2a2a2a" stroke-width="1"/>
<text x="290.50" y="500.25" font-size="7.7" fill="#3a3a3a" text-anchor="end" stroke="#3a3a3a" stroke-width="0.14">0</text>
<line x1="292.10" y1="456.80" x2="296.70" y2="456.80" stroke="#2a2a2a" stroke-width="1"/>
<text x="293.00" y="459.55" font-size="7.7" fill="#3a3a3a" text-anchor="end" textLength="13.200000000000001" lengthAdjust="spacingAndGlyphs" stroke="#3a3a3a" stroke-width="0.14">100</text>
<line x1="292.10" y1="416.10" x2="296.70" y2="416.10" stroke="#2a2a2a" stroke-width="1"/>
<text x="293.00" y="418.85" font-size="7.7" fill="#3a3a3a" text-anchor="end" textLength="13.200000000000001" lengthAdjust="spacingAndGlyphs" stroke="#3a3a3a" stroke-width="0.14">200</text>
<line x1="292.10" y1="375.40" x2="296.70" y2="375.40" stroke="#2a2a2a" stroke-width="1"/>
<text x="293.00" y="378.15" font-size="7.7" fill="#3a3a3a" text-anchor="end" textLength="13.200000000000001" lengthAdjust="spacingAndGlyphs" stroke="#3a3a3a" stroke-width="0.14">300</text>
<line x1="294.90" y1="493.43" x2="296.70" y2="493.43" stroke="#2a2a2a" stroke-width="0.8"/>
<line x1="294.90" y1="489.36" x2="296.70" y2="489.36" stroke="#2a2a2a" stroke-width="0.8"/>
<line x1="294.90" y1="485.29" x2="296.70" y2="485.29" stroke="#2a2a2a" stroke-width="0.8"/>
<line x1="294.90" y1="481.22" x2="296.70" y2="481.22" stroke="#2a2a2a" stroke-width="0.8"/>
<line x1="294.90" y1="477.15" x2="296.70" y2="477.15" stroke="#2a2a2a" stroke-width="0.8"/>
<line x1="294.90" y1="473.08" x2="296.70" y2="473.08" stroke="#2a2a2a" stroke-width="0.8"/>
<line x1="294.90" y1="469.01" x2="296.70" y2="469.01" stroke="#2a2a2a" stroke-width="0.8"/>
<line x1="294.90" y1="464.94" x2="296.70" y2="464.94" stroke="#2a2a2a" stroke-width="0.8"/>
<line x1="294.90" y1="460.87" x2="296.70" y2="460.87" stroke="#2a2a2a" stroke-width="0.8"/>
<line x1="294.90" y1="452.73" x2="296.70" y2="452.73" stroke="#2a2a2a" stroke-width="0.8"/>
<line x1="294.90" y1="448.66" x2="296.70" y2="448.66" stroke="#2a2a2a" stroke-width="0.8"/>
<line x1="294.90" y1="444.59" x2="296.70" y2="444.59" stroke="#2a2a2a" stroke-width="0.8"/>
<line x1="294.90" y1="440.52" x2="296.70" y2="440.52" stroke="#2a2a2a" stroke-width="0.8"/>
<line x1="294.90" y1="436.45" x2="296.70" y2="436.45" stroke="#2a2a2a" stroke-width="0.8"/>
<line x1="294.90" y1="432.38" x2="296.70" y2="432.38" stroke="#2a2a2a" stroke-width="0.8"/>
<line x1="294.90" y1="428.31" x2="296.70" y2="428.31" stroke="#2a2a2a" stroke-width="0.8"/>
<line x1="294.90" y1="424.24" x2="296.70" y2="424.24" stroke="#2a2a2a" stroke-width="0.8"/>
<line x1="294.90" y1="420.17" x2="296.70" y2="420.17" stroke="#2a2a2a" stroke-width="0.8"/>
<line x1="294.90" y1="412.03" x2="296.70" y2="412.03" stroke="#2a2a2a" stroke-width="0.8"/>
<line x1="294.90" y1="407.96" x2="296.70" y2="407.96" stroke="#2a2a2a" stroke-width="0.8"/>
<line x1="294.90" y1="403.89" x2="296.70" y2="403.89" stroke="#2a2a2a" stroke-width="0.8"/>
<line x1="294.90" y1="399.82" x2="296.70" y2="399.82" stroke="#2a2a2a" stroke-width="0.8"/>
<line x1="294.90" y1="395.75" x2="296.70" y2="395.75" stroke="#2a2a2a" stroke-width="0.8"/>
<line x1="294.90" y1="391.68" x2="296.70" y2="391.68" stroke="#2a2a2a" stroke-width="0.8"/>
<line x1="294.90" y1="387.61" x2="296.70" y2="387.61" stroke="#2a2a2a" stroke-width="0.8"/>
<line x1="294.90" y1="383.54" x2="296.70" y2="383.54" stroke="#2a2a2a" stroke-width="0.8"/>
<line x1="294.90" y1="379.47" x2="296.70" y2="379.47" stroke="#2a2a2a" stroke-width="0.8"/>
<line x1="300.70" y1="497.50" x2="300.70" y2="499.80" stroke="#2a2a2a" stroke-width="0.9"/>
<text x="300.70" y="505.70" font-size="5.2" fill="#444" text-anchor="middle" textLength="3.9" lengthAdjust="spacingAndGlyphs" stroke="#444" stroke-width="0.14">-5</text>
<line x1="306.10" y1="497.50" x2="306.10" y2="499.80" stroke="#2a2a2a" stroke-width="0.9"/>
<text x="306.10" y="505.70" font-size="5.2" fill="#444" text-anchor="middle" textLength="3.9" lengthAdjust="spacingAndGlyphs" stroke="#444" stroke-width="0.14">-4</text>
<line x1="311.50" y1="497.50" x2="311.50" y2="499.80" stroke="#2a2a2a" stroke-width="0.9"/>
<text x="311.50" y="505.70" font-size="5.2" fill="#444" text-anchor="middle" textLength="3.9" lengthAdjust="spacingAndGlyphs" stroke="#444" stroke-width="0.14">-3</text>
<line x1="316.90" y1="497.50" x2="316.90" y2="499.80" stroke="#2a2a2a" stroke-width="0.9"/>
<text x="316.90" y="505.70" font-size="5.2" fill="#444" text-anchor="middle" textLength="3.9" lengthAdjust="spacingAndGlyphs" stroke="#444" stroke-width="0.14">-2</text>
<line x1="322.30" y1="497.50" x2="322.30" y2="499.80" stroke="#2a2a2a" stroke-width="0.9"/>
<text x="322.30" y="505.70" font-size="5.2" fill="#444" text-anchor="middle" textLength="3.9" lengthAdjust="spacingAndGlyphs" stroke="#444" stroke-width="0.14">-1</text>
<line x1="328.20" y1="497.50" x2="328.20" y2="499.80" stroke="#2a2a2a" stroke-width="0.9"/>
<text x="328.20" y="505.70" font-size="5.2" fill="#444" text-anchor="middle" stroke="#444" stroke-width="0.14">0</text>
<line x1="333.60" y1="497.50" x2="333.60" y2="499.80" stroke="#2a2a2a" stroke-width="0.9"/>
<text x="333.60" y="505.70" font-size="5.2" fill="#444" text-anchor="middle" stroke="#444" stroke-width="0.14">1</text>
<line x1="339.00" y1="497.50" x2="339.00" y2="499.80" stroke="#2a2a2a" stroke-width="0.9"/>
<text x="339.00" y="505.70" font-size="5.2" fill="#444" text-anchor="middle" stroke="#444" stroke-width="0.14">2</text>
<line x1="344.40" y1="497.50" x2="344.40" y2="499.80" stroke="#2a2a2a" stroke-width="0.9"/>
<text x="344.40" y="505.70" font-size="5.2" fill="#444" text-anchor="middle" stroke="#444" stroke-width="0.14">3</text>
<line x1="349.80" y1="497.50" x2="349.80" y2="499.80" stroke="#2a2a2a" stroke-width="0.9"/>
<text x="349.80" y="505.70" font-size="5.2" fill="#444" text-anchor="middle" stroke="#444" stroke-width="0.14">4</text>
<line x1="355.20" y1="497.50" x2="355.20" y2="499.80" stroke="#2a2a2a" stroke-width="0.9"/>
<text x="355.20" y="505.70" font-size="5.2" fill="#444" text-anchor="middle" stroke="#444" stroke-width="0.14">5</text>
<line x1="360.60" y1="497.50" x2="360.60" y2="499.80" stroke="#2a2a2a" stroke-width="0.9"/>
<text x="360.60" y="505.70" font-size="5.2" fill="#444" text-anchor="middle" stroke="#444" stroke-width="0.14">6</text>
<line x1="365.90" y1="497.50" x2="365.90" y2="499.80" stroke="#2a2a2a" stroke-width="0.9"/>
<text x="365.90" y="505.70" font-size="5.2" fill="#444" text-anchor="middle" stroke="#444" stroke-width="0.14">7</text>
<line x1="371.20" y1="497.50" x2="371.20" y2="499.80" stroke="#2a2a2a" stroke-width="0.9"/>
<text x="371.20" y="505.70" font-size="5.2" fill="#444" text-anchor="middle" stroke="#444" stroke-width="0.14">8</text>
<line x1="376.50" y1="497.50" x2="376.50" y2="499.80" stroke="#2a2a2a" stroke-width="0.9"/>
<text x="376.50" y="505.70" font-size="5.2" fill="#444" text-anchor="middle" stroke="#444" stroke-width="0.14">9</text>
<line x1="381.90" y1="497.50" x2="381.90" y2="499.80" stroke="#2a2a2a" stroke-width="0.9"/>
<text x="381.90" y="505.70" font-size="5.2" fill="#444" text-anchor="middle" textLength="3.8" lengthAdjust="spacingAndGlyphs" stroke="#444" stroke-width="0.14">10</text>
<line x1="387.30" y1="497.50" x2="387.30" y2="499.80" stroke="#2a2a2a" stroke-width="0.9"/>
<text x="387.30" y="505.70" font-size="5.2" fill="#444" text-anchor="middle" textLength="3.8" lengthAdjust="spacingAndGlyphs" stroke="#444" stroke-width="0.14">11</text>
<line x1="392.50" y1="497.50" x2="392.50" y2="499.80" stroke="#2a2a2a" stroke-width="0.9"/>
<text x="392.50" y="505.70" font-size="5.2" fill="#444" text-anchor="middle" textLength="3.8" lengthAdjust="spacingAndGlyphs" stroke="#444" stroke-width="0.14">12</text>
<line x1="397.60" y1="497.50" x2="397.60" y2="499.80" stroke="#2a2a2a" stroke-width="0.9"/>
<text x="397.60" y="505.70" font-size="5.2" fill="#444" text-anchor="middle" textLength="3.8" lengthAdjust="spacingAndGlyphs" stroke="#444" stroke-width="0.14">13</text>
<line x1="402.80" y1="497.50" x2="402.80" y2="499.80" stroke="#2a2a2a" stroke-width="0.9"/>
<text x="402.80" y="505.70" font-size="5.2" fill="#444" text-anchor="middle" textLength="3.8" lengthAdjust="spacingAndGlyphs" stroke="#444" stroke-width="0.14">14</text>
<line x1="414.10" y1="497.50" x2="414.10" y2="499.80" stroke="#2a2a2a" stroke-width="0.9"/>
<text x="414.10" y="505.80" font-size="5.0" fill="#555" text-anchor="middle" textLength="6.0" lengthAdjust="spacingAndGlyphs" stroke="#555" stroke-width="0.14">W3</text>
<line x1="427.00" y1="497.50" x2="427.00" y2="499.80" stroke="#2a2a2a" stroke-width="0.9"/>
<text x="427.00" y="505.80" font-size="5.0" fill="#555" text-anchor="middle" textLength="6.0" lengthAdjust="spacingAndGlyphs" stroke="#555" stroke-width="0.14">W4</text>
<line x1="439.60" y1="497.50" x2="439.60" y2="499.80" stroke="#2a2a2a" stroke-width="0.9"/>
<text x="439.60" y="505.80" font-size="5.0" fill="#555" text-anchor="middle" textLength="6.0" lengthAdjust="spacingAndGlyphs" stroke="#555" stroke-width="0.14">W5</text>
<line x1="452.10" y1="497.50" x2="452.10" y2="499.80" stroke="#2a2a2a" stroke-width="0.9"/>
<text x="452.10" y="505.80" font-size="5.0" fill="#555" text-anchor="middle" textLength="6.0" lengthAdjust="spacingAndGlyphs" stroke="#555" stroke-width="0.14">W6</text>
<line x1="464.80" y1="497.50" x2="464.80" y2="499.80" stroke="#2a2a2a" stroke-width="0.9"/>
<text x="464.80" y="505.80" font-size="5.0" fill="#555" text-anchor="middle" textLength="6.0" lengthAdjust="spacingAndGlyphs" stroke="#555" stroke-width="0.14">W7</text>
<line x1="477.50" y1="497.50" x2="477.50" y2="499.80" stroke="#2a2a2a" stroke-width="0.9"/>
<text x="477.50" y="505.80" font-size="5.0" fill="#555" text-anchor="middle" textLength="6.0" lengthAdjust="spacingAndGlyphs" stroke="#555" stroke-width="0.14">W8</text>
<line x1="491.60" y1="497.50" x2="491.60" y2="499.80" stroke="#2a2a2a" stroke-width="0.9"/>
<text x="491.60" y="505.80" font-size="5.0" fill="#555" text-anchor="middle" textLength="6.0" lengthAdjust="spacingAndGlyphs" stroke="#555" stroke-width="0.14">M3</text>
<line x1="504.20" y1="497.50" x2="504.20" y2="499.80" stroke="#2a2a2a" stroke-width="0.9"/>
<text x="504.20" y="505.80" font-size="5.0" fill="#555" text-anchor="middle" textLength="6.0" lengthAdjust="spacingAndGlyphs" stroke="#555" stroke-width="0.14">M4</text>
<circle cx="406.30" cy="497.50" r="1.3" fill="#777" stroke="#222" stroke-width="0.9"/>
<circle cx="483.80" cy="497.50" r="1.3" fill="#777" stroke="#222" stroke-width="0.9"/>
<text x="307.25" y="514.20" font-size="7.0" fill="#3a3a3a" text-anchor="middle" textLength="26.7" lengthAdjust="spacingAndGlyphs" stroke="#3a3a3a" stroke-width="0.14">Baseline</text>
<text x="345.00" y="518.50" font-size="9.0" fill="#3a3a3a" text-anchor="middle" textLength="15.9" lengthAdjust="spacingAndGlyphs" stroke="#3a3a3a" stroke-width="0.14">Days</text>
<text x="444.90" y="518.60" font-size="9.2" fill="#3a3a3a" text-anchor="middle" textLength="22.6" lengthAdjust="spacingAndGlyphs" stroke="#3a3a3a" stroke-width="0.14">Weeks</text>
<text x="498.10" y="518.60" font-size="9.2" fill="#3a3a3a" text-anchor="middle" textLength="25.5" lengthAdjust="spacingAndGlyphs" stroke="#3a3a3a" stroke-width="0.14">Months</text>
<line x1="303.40" y1="380.00" x2="310.90" y2="380.00" stroke="#3cb043" stroke-width="1.4"/>
<text x="313.90" y="382.60" font-size="7.6" fill="#4fb152" text-anchor="start" textLength="80" lengthAdjust="spacingAndGlyphs" stroke="#4fb152" stroke-width="0.14">CAR-HEMATOTOX Low</text>
<line x1="303.40" y1="391.20" x2="310.90" y2="391.20" stroke="#c0711f" stroke-width="1.4"/>
<text x="313.90" y="393.80" font-size="7.6" fill="#c47c3a" text-anchor="start" textLength="82" lengthAdjust="spacingAndGlyphs" stroke="#c47c3a" stroke-width="0.14">CAR-HEMATOTOX High</text>
<text x="449.3" y="386.9" font-size="7.2" fill="#333" textLength="55" lengthAdjust="spacingAndGlyphs"><tspan font-style="italic">P</tspan> (AUC) &lt; 1 x 10</text><text x="505.2" y="383.6" font-size="4.6" fill="#333">−4</text>
<text x="275.80" y="430.90" font-size="9.0" fill="#3a3a3a" text-anchor="middle" textLength="61.8" lengthAdjust="spacingAndGlyphs" stroke="#3a3a3a" stroke-width="0.14" transform="rotate(-90 275.80 430.90)">Platelet count (G/l)</text>
<rect x="0.6" y="0.6" width="518.8" height="526.8" fill="none" stroke="#111" stroke-width="1.2"/>
</svg>
</body></html>
